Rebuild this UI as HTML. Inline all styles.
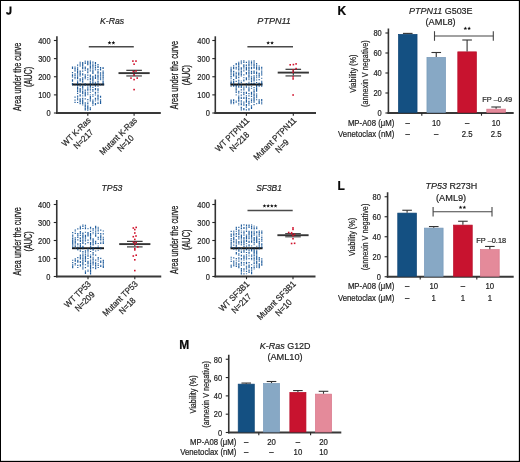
<!DOCTYPE html>
<html><head><meta charset="utf-8"><title>Figure</title>
<style>html,body{margin:0;padding:0;background:#fff;width:520px;height:462px;overflow:hidden}
svg text{font-family:"Liberation Sans", sans-serif}</style></head>
<body>
<svg width="520" height="462" viewBox="0 0 520 462" style="position:absolute;left:0;top:0;will-change:transform" font-family="'Liberation Sans', sans-serif">
<rect x="0" y="0" width="520" height="462" fill="#fff"/>
<path d="M10.5 6.4V11.6Q10.5 13.8 8.45 13.8Q7.0 13.8 6.9 12.2" fill="none" stroke="#0a0a0a" stroke-width="1.95"/>
<text transform="translate(337.60,14.80)" font-size="12" text-anchor="start" fill="#0a0a0a" font-weight="bold" stroke="#0a0a0a" stroke-width="0.2">K</text>
<text transform="translate(337.50,189.70)" font-size="12" text-anchor="start" fill="#0a0a0a" font-weight="bold" stroke="#0a0a0a" stroke-width="0.2">L</text>
<text transform="translate(179.30,348.50)" font-size="12" text-anchor="start" fill="#0a0a0a" font-weight="bold" stroke="#0a0a0a" stroke-width="0.2">M</text>
<text transform="translate(20.80,76.90) rotate(-90) scale(0.71,1)" font-size="10.3" text-anchor="middle" fill="#1e1e1e" stroke="#1e1e1e" stroke-width="0.3">Area under the curve</text>
<text transform="translate(32.20,76.90) rotate(-90) scale(0.71,1)" font-size="10.3" text-anchor="middle" fill="#1e1e1e" stroke="#1e1e1e" stroke-width="0.3">(AUC)</text>
<line x1="56.90" y1="36.30" x2="56.90" y2="113.80" stroke="#333" stroke-width="1.6"/>
<line x1="56.10" y1="113.00" x2="160.80" y2="113.00" stroke="#383838" stroke-width="1.8"/>
<line x1="53.90" y1="113.00" x2="56.90" y2="113.00" stroke="#262626" stroke-width="1.1"/>
<text transform="translate(50.60,116.30) scale(0.9,1)" font-size="8.3" text-anchor="end" fill="#1e1e1e" stroke="#1e1e1e" stroke-width="0.2">0</text>
<line x1="53.90" y1="94.88" x2="56.90" y2="94.88" stroke="#262626" stroke-width="1.1"/>
<text transform="translate(50.60,98.17) scale(0.9,1)" font-size="8.3" text-anchor="end" fill="#1e1e1e" stroke="#1e1e1e" stroke-width="0.2">100</text>
<line x1="53.90" y1="76.75" x2="56.90" y2="76.75" stroke="#262626" stroke-width="1.1"/>
<text transform="translate(50.60,80.05) scale(0.9,1)" font-size="8.3" text-anchor="end" fill="#1e1e1e" stroke="#1e1e1e" stroke-width="0.2">200</text>
<line x1="53.90" y1="58.62" x2="56.90" y2="58.62" stroke="#262626" stroke-width="1.1"/>
<text transform="translate(50.60,61.92) scale(0.9,1)" font-size="8.3" text-anchor="end" fill="#1e1e1e" stroke="#1e1e1e" stroke-width="0.2">300</text>
<line x1="53.90" y1="40.50" x2="56.90" y2="40.50" stroke="#262626" stroke-width="1.1"/>
<text transform="translate(50.60,43.80) scale(0.9,1)" font-size="8.3" text-anchor="end" fill="#1e1e1e" stroke="#1e1e1e" stroke-width="0.2">400</text>
<line x1="87.80" y1="113.00" x2="87.80" y2="115.70" stroke="#262626" stroke-width="1.1"/>
<line x1="134.10" y1="113.00" x2="134.10" y2="115.70" stroke="#262626" stroke-width="1.1"/>
<text transform="translate(112.10,24.30) scale(0.887142857142857,1)" font-size="9.8" text-anchor="middle" fill="#1e1e1e" font-style="italic" stroke="#1e1e1e" stroke-width="0.2">K-Ras</text>
<g transform="translate(91.30,121.00) rotate(-45)">
<text transform="translate(0.00,0.00) scale(0.92,1)" font-size="8.7" text-anchor="end" fill="#1e1e1e" stroke="#1e1e1e" stroke-width="0.2">WT K-Ras</text>
<text transform="translate(-18.38,10.20) scale(0.92,1)" font-size="8.7" text-anchor="middle" fill="#1e1e1e" stroke="#1e1e1e" stroke-width="0.2">N=217</text>
</g>
<g transform="translate(137.60,121.00) rotate(-45)">
<text transform="translate(0.00,0.00) scale(0.92,1)" font-size="8.7" text-anchor="end" fill="#1e1e1e" stroke="#1e1e1e" stroke-width="0.2">Mutant K-Ras</text>
<text transform="translate(-24.46,10.20) scale(0.92,1)" font-size="8.7" text-anchor="middle" fill="#1e1e1e" stroke="#1e1e1e" stroke-width="0.2">N=10</text>
</g>
<path d="M84.65 60.56h1.2v1.2h-1.2zM84.65 61.71h1.2v1.2h-1.2zM92.30 63.23h1.2v1.2h-1.2zM79.55 64.56h1.2v1.2h-1.2zM79.55 65.46h1.2v1.2h-1.2zM94.85 65.31h1.2v1.2h-1.2zM77.00 66.75h1.2v1.2h-1.2zM92.30 66.71h1.2v1.2h-1.2zM102.50 67.02h1.2v1.2h-1.2zM94.85 68.28h1.2v1.2h-1.2zM92.30 69.45h1.2v1.2h-1.2zM94.85 69.35h1.2v1.2h-1.2zM74.45 70.67h1.2v1.2h-1.2zM87.20 70.69h1.2v1.2h-1.2zM97.40 70.78h1.2v1.2h-1.2zM99.95 71.98h1.2v1.2h-1.2zM97.40 72.84h1.2v1.2h-1.2zM99.95 73.15h1.2v1.2h-1.2zM77.00 74.53h1.2v1.2h-1.2zM99.95 74.02h1.2v1.2h-1.2zM77.00 75.77h1.2v1.2h-1.2zM79.55 75.53h1.2v1.2h-1.2zM71.90 76.50h1.2v1.2h-1.2zM82.10 77.03h1.2v1.2h-1.2zM87.20 77.02h1.2v1.2h-1.2zM89.75 76.54h1.2v1.2h-1.2zM99.95 76.69h1.2v1.2h-1.2zM74.45 78.16h1.2v1.2h-1.2zM97.40 77.78h1.2v1.2h-1.2zM87.20 78.99h1.2v1.2h-1.2zM97.40 79.01h1.2v1.2h-1.2zM99.95 79.03h1.2v1.2h-1.2zM102.50 79.28h1.2v1.2h-1.2zM89.75 80.74h1.2v1.2h-1.2zM94.85 81.71h1.2v1.2h-1.2zM97.40 81.90h1.2v1.2h-1.2zM79.55 83.27h1.2v1.2h-1.2zM84.65 83.32h1.2v1.2h-1.2zM92.30 83.29h1.2v1.2h-1.2zM94.85 82.83h1.2v1.2h-1.2zM97.40 83.08h1.2v1.2h-1.2zM79.55 84.22h1.2v1.2h-1.2zM82.10 84.16h1.2v1.2h-1.2zM87.20 84.52h1.2v1.2h-1.2zM92.30 84.03h1.2v1.2h-1.2zM97.40 84.04h1.2v1.2h-1.2zM77.00 85.63h1.2v1.2h-1.2zM79.55 85.61h1.2v1.2h-1.2zM89.75 88.17h1.2v1.2h-1.2zM82.10 89.32h1.2v1.2h-1.2zM84.65 90.46h1.2v1.2h-1.2zM97.40 90.33h1.2v1.2h-1.2zM97.40 91.96h1.2v1.2h-1.2zM87.20 93.27h1.2v1.2h-1.2zM94.85 92.73h1.2v1.2h-1.2zM87.20 94.07h1.2v1.2h-1.2zM89.75 94.17h1.2v1.2h-1.2zM82.10 95.37h1.2v1.2h-1.2zM92.30 95.79h1.2v1.2h-1.2zM77.00 96.56h1.2v1.2h-1.2zM97.40 96.62h1.2v1.2h-1.2zM77.00 99.22h1.2v1.2h-1.2zM89.75 99.04h1.2v1.2h-1.2zM94.85 98.98h1.2v1.2h-1.2zM94.85 100.39h1.2v1.2h-1.2zM79.55 101.50h1.2v1.2h-1.2zM84.65 102.07h1.2v1.2h-1.2zM87.20 101.52h1.2v1.2h-1.2zM97.40 101.67h1.2v1.2h-1.2zM84.65 102.79h1.2v1.2h-1.2zM82.10 104.26h1.2v1.2h-1.2zM87.20 104.50h1.2v1.2h-1.2zM89.75 106.88h1.2v1.2h-1.2zM89.75 107.96h1.2v1.2h-1.2z" fill="#1f5c9c" fill-opacity="0.75"/>
<path d="M87.20 60.74h1.2v1.2h-1.2zM89.75 60.53h1.2v1.2h-1.2zM79.55 61.66h1.2v1.2h-1.2zM82.10 62.01h1.2v1.2h-1.2zM87.20 61.84h1.2v1.2h-1.2zM89.75 61.97h1.2v1.2h-1.2zM92.30 61.59h1.2v1.2h-1.2zM94.85 61.94h1.2v1.2h-1.2zM79.55 63.23h1.2v1.2h-1.2zM82.10 63.02h1.2v1.2h-1.2zM84.65 62.89h1.2v1.2h-1.2zM87.20 62.91h1.2v1.2h-1.2zM89.75 62.74h1.2v1.2h-1.2zM94.85 62.74h1.2v1.2h-1.2zM77.00 64.53h1.2v1.2h-1.2zM82.10 64.31h1.2v1.2h-1.2zM87.20 64.03h1.2v1.2h-1.2zM89.75 64.22h1.2v1.2h-1.2zM92.30 64.40h1.2v1.2h-1.2zM94.85 64.45h1.2v1.2h-1.2zM97.40 64.09h1.2v1.2h-1.2zM82.10 65.35h1.2v1.2h-1.2zM89.75 65.82h1.2v1.2h-1.2zM92.30 65.46h1.2v1.2h-1.2zM97.40 65.69h1.2v1.2h-1.2zM71.90 66.52h1.2v1.2h-1.2zM74.45 66.62h1.2v1.2h-1.2zM82.10 66.71h1.2v1.2h-1.2zM84.65 66.61h1.2v1.2h-1.2zM89.75 66.85h1.2v1.2h-1.2zM94.85 66.73h1.2v1.2h-1.2zM97.40 66.78h1.2v1.2h-1.2zM99.95 66.90h1.2v1.2h-1.2zM71.90 67.83h1.2v1.2h-1.2zM74.45 68.01h1.2v1.2h-1.2zM77.00 68.28h1.2v1.2h-1.2zM82.10 67.97h1.2v1.2h-1.2zM84.65 67.83h1.2v1.2h-1.2zM87.20 68.31h1.2v1.2h-1.2zM89.75 68.26h1.2v1.2h-1.2zM92.30 68.14h1.2v1.2h-1.2zM99.95 68.30h1.2v1.2h-1.2zM102.50 67.77h1.2v1.2h-1.2zM74.45 69.57h1.2v1.2h-1.2zM77.00 69.20h1.2v1.2h-1.2zM84.65 69.45h1.2v1.2h-1.2zM87.20 69.39h1.2v1.2h-1.2zM97.40 68.98h1.2v1.2h-1.2zM99.95 69.36h1.2v1.2h-1.2zM77.00 70.73h1.2v1.2h-1.2zM79.55 70.53h1.2v1.2h-1.2zM82.10 70.51h1.2v1.2h-1.2zM89.75 70.23h1.2v1.2h-1.2zM92.30 70.59h1.2v1.2h-1.2zM102.50 70.62h1.2v1.2h-1.2zM71.90 71.96h1.2v1.2h-1.2zM77.00 71.82h1.2v1.2h-1.2zM79.55 71.56h1.2v1.2h-1.2zM87.20 72.05h1.2v1.2h-1.2zM92.30 71.76h1.2v1.2h-1.2zM97.40 71.79h1.2v1.2h-1.2zM102.50 71.97h1.2v1.2h-1.2zM74.45 73.15h1.2v1.2h-1.2zM77.00 73.20h1.2v1.2h-1.2zM79.55 72.97h1.2v1.2h-1.2zM82.10 73.22h1.2v1.2h-1.2zM92.30 72.79h1.2v1.2h-1.2zM102.50 72.75h1.2v1.2h-1.2zM71.90 74.18h1.2v1.2h-1.2zM74.45 74.45h1.2v1.2h-1.2zM79.55 74.25h1.2v1.2h-1.2zM82.10 74.32h1.2v1.2h-1.2zM84.65 74.37h1.2v1.2h-1.2zM87.20 74.49h1.2v1.2h-1.2zM89.75 74.51h1.2v1.2h-1.2zM94.85 74.45h1.2v1.2h-1.2zM97.40 74.41h1.2v1.2h-1.2zM102.50 74.23h1.2v1.2h-1.2zM71.90 75.24h1.2v1.2h-1.2zM74.45 75.25h1.2v1.2h-1.2zM84.65 75.79h1.2v1.2h-1.2zM89.75 75.56h1.2v1.2h-1.2zM92.30 75.73h1.2v1.2h-1.2zM94.85 75.45h1.2v1.2h-1.2zM97.40 75.31h1.2v1.2h-1.2zM99.95 75.35h1.2v1.2h-1.2zM102.50 75.59h1.2v1.2h-1.2zM74.45 77.07h1.2v1.2h-1.2zM77.00 76.89h1.2v1.2h-1.2zM84.65 76.76h1.2v1.2h-1.2zM92.30 77.03h1.2v1.2h-1.2zM94.85 77.06h1.2v1.2h-1.2zM97.40 76.61h1.2v1.2h-1.2zM102.50 76.91h1.2v1.2h-1.2zM77.00 78.10h1.2v1.2h-1.2zM79.55 78.24h1.2v1.2h-1.2zM82.10 78.24h1.2v1.2h-1.2zM84.65 78.17h1.2v1.2h-1.2zM89.75 77.91h1.2v1.2h-1.2zM92.30 78.32h1.2v1.2h-1.2zM94.85 77.87h1.2v1.2h-1.2zM99.95 78.15h1.2v1.2h-1.2zM102.50 78.14h1.2v1.2h-1.2zM71.90 79.32h1.2v1.2h-1.2zM79.55 79.28h1.2v1.2h-1.2zM82.10 79.39h1.2v1.2h-1.2zM89.75 79.09h1.2v1.2h-1.2zM92.30 79.07h1.2v1.2h-1.2zM71.90 80.45h1.2v1.2h-1.2zM77.00 80.50h1.2v1.2h-1.2zM79.55 80.34h1.2v1.2h-1.2zM82.10 80.70h1.2v1.2h-1.2zM92.30 80.34h1.2v1.2h-1.2zM97.40 80.77h1.2v1.2h-1.2zM102.50 80.76h1.2v1.2h-1.2zM77.00 81.91h1.2v1.2h-1.2zM82.10 81.54h1.2v1.2h-1.2zM89.75 81.64h1.2v1.2h-1.2zM92.30 81.87h1.2v1.2h-1.2zM102.50 81.84h1.2v1.2h-1.2zM71.90 82.97h1.2v1.2h-1.2zM77.00 82.73h1.2v1.2h-1.2zM89.75 83.08h1.2v1.2h-1.2zM102.50 83.04h1.2v1.2h-1.2zM71.90 84.15h1.2v1.2h-1.2zM74.45 84.15h1.2v1.2h-1.2zM77.00 84.44h1.2v1.2h-1.2zM84.65 84.57h1.2v1.2h-1.2zM89.75 84.13h1.2v1.2h-1.2zM94.85 84.55h1.2v1.2h-1.2zM99.95 84.10h1.2v1.2h-1.2zM102.50 84.07h1.2v1.2h-1.2zM82.10 85.67h1.2v1.2h-1.2zM89.75 85.29h1.2v1.2h-1.2zM94.85 85.44h1.2v1.2h-1.2zM97.40 85.66h1.2v1.2h-1.2zM77.00 86.93h1.2v1.2h-1.2zM82.10 86.87h1.2v1.2h-1.2zM87.20 86.51h1.2v1.2h-1.2zM89.75 86.49h1.2v1.2h-1.2zM92.30 86.80h1.2v1.2h-1.2zM77.00 87.87h1.2v1.2h-1.2zM79.55 87.94h1.2v1.2h-1.2zM82.10 88.17h1.2v1.2h-1.2zM87.20 88.22h1.2v1.2h-1.2zM94.85 88.12h1.2v1.2h-1.2zM97.40 88.18h1.2v1.2h-1.2zM77.00 89.20h1.2v1.2h-1.2zM79.55 89.17h1.2v1.2h-1.2zM84.65 89.44h1.2v1.2h-1.2zM87.20 89.52h1.2v1.2h-1.2zM89.75 89.27h1.2v1.2h-1.2zM92.30 89.06h1.2v1.2h-1.2zM94.85 89.17h1.2v1.2h-1.2zM97.40 89.24h1.2v1.2h-1.2zM77.00 90.71h1.2v1.2h-1.2zM79.55 90.36h1.2v1.2h-1.2zM82.10 90.72h1.2v1.2h-1.2zM92.30 90.46h1.2v1.2h-1.2zM79.55 91.49h1.2v1.2h-1.2zM82.10 91.82h1.2v1.2h-1.2zM84.65 91.96h1.2v1.2h-1.2zM87.20 91.66h1.2v1.2h-1.2zM89.75 91.64h1.2v1.2h-1.2zM94.85 91.86h1.2v1.2h-1.2zM77.00 92.86h1.2v1.2h-1.2zM82.10 92.93h1.2v1.2h-1.2zM84.65 93.02h1.2v1.2h-1.2zM79.55 94.29h1.2v1.2h-1.2zM84.65 94.23h1.2v1.2h-1.2zM92.30 94.15h1.2v1.2h-1.2zM94.85 94.41h1.2v1.2h-1.2zM97.40 94.44h1.2v1.2h-1.2zM77.00 95.51h1.2v1.2h-1.2zM79.55 95.34h1.2v1.2h-1.2zM84.65 95.36h1.2v1.2h-1.2zM89.75 95.77h1.2v1.2h-1.2zM97.40 95.47h1.2v1.2h-1.2zM99.95 95.69h1.2v1.2h-1.2zM74.45 96.61h1.2v1.2h-1.2zM89.75 97.03h1.2v1.2h-1.2zM99.95 96.57h1.2v1.2h-1.2zM77.00 98.27h1.2v1.2h-1.2zM79.55 98.32h1.2v1.2h-1.2zM82.10 97.76h1.2v1.2h-1.2zM84.65 98.22h1.2v1.2h-1.2zM89.75 97.89h1.2v1.2h-1.2zM94.85 97.77h1.2v1.2h-1.2zM97.40 97.84h1.2v1.2h-1.2zM74.45 99.47h1.2v1.2h-1.2zM79.55 99.47h1.2v1.2h-1.2zM82.10 99.22h1.2v1.2h-1.2zM87.20 99.02h1.2v1.2h-1.2zM92.30 99.42h1.2v1.2h-1.2zM97.40 99.26h1.2v1.2h-1.2zM99.95 99.25h1.2v1.2h-1.2zM79.55 100.77h1.2v1.2h-1.2zM82.10 100.45h1.2v1.2h-1.2zM89.75 100.28h1.2v1.2h-1.2zM92.30 100.66h1.2v1.2h-1.2zM99.95 100.72h1.2v1.2h-1.2zM74.45 101.85h1.2v1.2h-1.2zM77.00 101.90h1.2v1.2h-1.2zM82.10 101.53h1.2v1.2h-1.2zM92.30 101.60h1.2v1.2h-1.2zM99.95 101.91h1.2v1.2h-1.2zM79.55 103.09h1.2v1.2h-1.2zM82.10 102.84h1.2v1.2h-1.2zM87.20 102.92h1.2v1.2h-1.2zM92.30 102.82h1.2v1.2h-1.2zM94.85 102.94h1.2v1.2h-1.2zM97.40 102.84h1.2v1.2h-1.2zM99.95 102.74h1.2v1.2h-1.2zM84.65 104.17h1.2v1.2h-1.2zM92.30 104.52h1.2v1.2h-1.2zM94.85 104.13h1.2v1.2h-1.2zM84.65 105.30h1.2v1.2h-1.2zM87.20 105.76h1.2v1.2h-1.2zM84.65 106.57h1.2v1.2h-1.2zM87.20 106.72h1.2v1.2h-1.2zM84.65 108.11h1.2v1.2h-1.2zM87.20 107.97h1.2v1.2h-1.2zM84.65 109.29h1.2v1.2h-1.2zM87.20 109.53h1.2v1.2h-1.2zM89.75 109.00h1.2v1.2h-1.2z" fill="#1f5c9c" fill-opacity="1.0"/>
<line x1="72.20" y1="84.54" x2="104.20" y2="84.54" stroke="#151515" stroke-width="1.9"/>
<path d="M71.90 82.97h1.2v1.2h-1.2zM77.00 82.73h1.2v1.2h-1.2zM79.55 83.27h1.2v1.2h-1.2zM84.65 83.32h1.2v1.2h-1.2zM89.75 83.08h1.2v1.2h-1.2zM92.30 83.29h1.2v1.2h-1.2zM94.85 82.83h1.2v1.2h-1.2zM97.40 83.08h1.2v1.2h-1.2zM102.50 83.04h1.2v1.2h-1.2zM71.90 84.15h1.2v1.2h-1.2zM74.45 84.15h1.2v1.2h-1.2zM77.00 84.44h1.2v1.2h-1.2zM79.55 84.22h1.2v1.2h-1.2zM82.10 84.16h1.2v1.2h-1.2zM84.65 84.57h1.2v1.2h-1.2zM87.20 84.52h1.2v1.2h-1.2zM89.75 84.13h1.2v1.2h-1.2zM92.30 84.03h1.2v1.2h-1.2zM94.85 84.55h1.2v1.2h-1.2zM97.40 84.04h1.2v1.2h-1.2zM99.95 84.10h1.2v1.2h-1.2zM102.50 84.07h1.2v1.2h-1.2z" fill="#1f5c9c" fill-opacity="0.55"/>
<line x1="134.10" y1="70.32" x2="134.10" y2="75.93" stroke="#333" stroke-width="1.1"/>
<line x1="126.30" y1="70.32" x2="141.90" y2="70.32" stroke="#2e2e2e" stroke-width="1.15"/>
<line x1="126.30" y1="75.93" x2="141.90" y2="75.93" stroke="#6e6e6e" stroke-width="1.6"/>
<line x1="118.50" y1="73.12" x2="149.70" y2="73.12" stroke="#353535" stroke-width="1.9"/>
<rect x="132.10" y="60.30" width="1.6" height="1.6" fill="#d0112b"/>
<rect x="135.20" y="60.30" width="1.6" height="1.6" fill="#d0112b"/>
<rect x="133.30" y="63.40" width="1.6" height="1.6" fill="#d0112b"/>
<rect x="132.50" y="70.80" width="1.6" height="1.6" fill="#d0112b"/>
<rect x="135.20" y="70.30" width="1.6" height="1.6" fill="#d0112b"/>
<rect x="133.30" y="74.20" width="1.6" height="1.6" fill="#d0112b"/>
<rect x="130.20" y="77.30" width="1.6" height="1.6" fill="#d0112b"/>
<rect x="136.40" y="77.30" width="1.6" height="1.6" fill="#d0112b"/>
<rect x="133.30" y="78.80" width="1.6" height="1.6" fill="#d0112b"/>
<rect x="133.30" y="88.80" width="1.6" height="1.6" fill="#d0112b"/>
<line x1="88.80" y1="46.70" x2="133.80" y2="46.70" stroke="#4a4a4a" stroke-width="1.4"/>
<path d="M109.50 40.85L110.00 42.11L111.35 42.20L110.31 43.06L110.65 44.38L109.50 43.65L108.35 44.38L108.69 43.06L107.65 42.20L109.00 42.11ZM113.40 40.85L113.90 42.11L115.25 42.20L114.21 43.06L114.55 44.38L113.40 43.65L112.25 44.38L112.59 43.06L111.55 42.20L112.90 42.11Z" fill="#111"/>
<text transform="translate(178.40,75.10) rotate(-90) scale(0.71,1)" font-size="10.3" text-anchor="middle" fill="#1e1e1e" stroke="#1e1e1e" stroke-width="0.3">Area under the curve</text>
<text transform="translate(190.00,75.10) rotate(-90) scale(0.71,1)" font-size="10.3" text-anchor="middle" fill="#1e1e1e" stroke="#1e1e1e" stroke-width="0.3">(AUC)</text>
<line x1="215.30" y1="36.30" x2="215.30" y2="113.80" stroke="#333" stroke-width="1.6"/>
<line x1="214.50" y1="113.00" x2="316.00" y2="113.00" stroke="#383838" stroke-width="1.8"/>
<line x1="212.30" y1="113.00" x2="215.30" y2="113.00" stroke="#262626" stroke-width="1.1"/>
<text transform="translate(209.80,116.30) scale(0.9,1)" font-size="8.3" text-anchor="end" fill="#1e1e1e" stroke="#1e1e1e" stroke-width="0.2">0</text>
<line x1="212.30" y1="94.88" x2="215.30" y2="94.88" stroke="#262626" stroke-width="1.1"/>
<text transform="translate(209.80,98.17) scale(0.9,1)" font-size="8.3" text-anchor="end" fill="#1e1e1e" stroke="#1e1e1e" stroke-width="0.2">100</text>
<line x1="212.30" y1="76.75" x2="215.30" y2="76.75" stroke="#262626" stroke-width="1.1"/>
<text transform="translate(209.80,80.05) scale(0.9,1)" font-size="8.3" text-anchor="end" fill="#1e1e1e" stroke="#1e1e1e" stroke-width="0.2">200</text>
<line x1="212.30" y1="58.62" x2="215.30" y2="58.62" stroke="#262626" stroke-width="1.1"/>
<text transform="translate(209.80,61.92) scale(0.9,1)" font-size="8.3" text-anchor="end" fill="#1e1e1e" stroke="#1e1e1e" stroke-width="0.2">300</text>
<line x1="212.30" y1="40.50" x2="215.30" y2="40.50" stroke="#262626" stroke-width="1.1"/>
<text transform="translate(209.80,43.80) scale(0.9,1)" font-size="8.3" text-anchor="end" fill="#1e1e1e" stroke="#1e1e1e" stroke-width="0.2">400</text>
<line x1="246.40" y1="113.00" x2="246.40" y2="115.70" stroke="#262626" stroke-width="1.1"/>
<line x1="293.30" y1="113.00" x2="293.30" y2="115.70" stroke="#262626" stroke-width="1.1"/>
<text transform="translate(274.10,23.90) scale(0.9246938775510203,1)" font-size="9.8" text-anchor="middle" fill="#1e1e1e" font-style="italic" stroke="#1e1e1e" stroke-width="0.2">PTPN11</text>
<g transform="translate(249.90,121.00) rotate(-45)">
<text transform="translate(0.00,0.00) scale(0.92,1)" font-size="8.7" text-anchor="end" fill="#1e1e1e" stroke="#1e1e1e" stroke-width="0.2">WT PTPN11</text>
<text transform="translate(-22.09,10.20) scale(0.92,1)" font-size="8.7" text-anchor="middle" fill="#1e1e1e" stroke="#1e1e1e" stroke-width="0.2">N=218</text>
</g>
<g transform="translate(296.80,121.00) rotate(-45)">
<text transform="translate(0.00,0.00) scale(0.92,1)" font-size="8.7" text-anchor="end" fill="#1e1e1e" stroke="#1e1e1e" stroke-width="0.2">Mutant PTPN11</text>
<text transform="translate(-28.17,10.20) scale(0.92,1)" font-size="8.7" text-anchor="middle" fill="#1e1e1e" stroke="#1e1e1e" stroke-width="0.2">N=9</text>
</g>
<path d="M240.70 60.24h1.2v1.2h-1.2zM250.90 60.59h1.2v1.2h-1.2zM240.70 63.08h1.2v1.2h-1.2zM248.35 62.78h1.2v1.2h-1.2zM250.90 62.98h1.2v1.2h-1.2zM250.90 64.47h1.2v1.2h-1.2zM256.00 64.57h1.2v1.2h-1.2zM245.80 65.33h1.2v1.2h-1.2zM230.50 66.85h1.2v1.2h-1.2zM238.15 66.93h1.2v1.2h-1.2zM240.70 66.89h1.2v1.2h-1.2zM243.25 68.20h1.2v1.2h-1.2zM253.45 67.78h1.2v1.2h-1.2zM238.15 70.40h1.2v1.2h-1.2zM233.05 71.55h1.2v1.2h-1.2zM235.60 71.80h1.2v1.2h-1.2zM238.15 71.96h1.2v1.2h-1.2zM261.10 71.90h1.2v1.2h-1.2zM230.50 73.00h1.2v1.2h-1.2zM240.70 72.87h1.2v1.2h-1.2zM235.60 74.38h1.2v1.2h-1.2zM256.00 74.49h1.2v1.2h-1.2zM261.10 74.52h1.2v1.2h-1.2zM238.15 75.24h1.2v1.2h-1.2zM250.90 75.72h1.2v1.2h-1.2zM256.00 75.48h1.2v1.2h-1.2zM230.50 76.52h1.2v1.2h-1.2zM243.25 77.03h1.2v1.2h-1.2zM245.80 77.01h1.2v1.2h-1.2zM250.90 76.49h1.2v1.2h-1.2zM256.00 77.05h1.2v1.2h-1.2zM248.35 78.13h1.2v1.2h-1.2zM261.10 77.75h1.2v1.2h-1.2zM238.15 79.41h1.2v1.2h-1.2zM248.35 79.01h1.2v1.2h-1.2zM240.70 80.40h1.2v1.2h-1.2zM238.15 81.86h1.2v1.2h-1.2zM261.10 81.83h1.2v1.2h-1.2zM230.50 82.87h1.2v1.2h-1.2zM233.05 83.27h1.2v1.2h-1.2zM248.35 83.29h1.2v1.2h-1.2zM248.35 85.28h1.2v1.2h-1.2zM250.90 85.80h1.2v1.2h-1.2zM261.10 85.68h1.2v1.2h-1.2zM235.60 87.01h1.2v1.2h-1.2zM245.80 86.70h1.2v1.2h-1.2zM248.35 87.00h1.2v1.2h-1.2zM243.25 87.97h1.2v1.2h-1.2zM250.90 87.86h1.2v1.2h-1.2zM235.60 90.49h1.2v1.2h-1.2zM238.15 90.74h1.2v1.2h-1.2zM240.70 91.74h1.2v1.2h-1.2zM253.45 91.86h1.2v1.2h-1.2zM238.15 93.16h1.2v1.2h-1.2zM243.25 92.84h1.2v1.2h-1.2zM256.00 93.13h1.2v1.2h-1.2zM235.60 94.33h1.2v1.2h-1.2zM250.90 94.12h1.2v1.2h-1.2zM256.00 95.75h1.2v1.2h-1.2zM240.70 96.73h1.2v1.2h-1.2zM243.25 96.68h1.2v1.2h-1.2zM256.00 96.99h1.2v1.2h-1.2zM250.90 98.23h1.2v1.2h-1.2zM235.60 100.52h1.2v1.2h-1.2zM235.60 101.86h1.2v1.2h-1.2zM240.70 101.56h1.2v1.2h-1.2zM250.90 101.72h1.2v1.2h-1.2zM253.45 101.84h1.2v1.2h-1.2zM261.10 101.98h1.2v1.2h-1.2zM230.50 103.05h1.2v1.2h-1.2zM233.05 103.12h1.2v1.2h-1.2zM238.15 102.75h1.2v1.2h-1.2zM256.00 103.00h1.2v1.2h-1.2zM261.10 103.26h1.2v1.2h-1.2zM238.15 104.31h1.2v1.2h-1.2zM248.35 104.47h1.2v1.2h-1.2zM245.80 106.84h1.2v1.2h-1.2zM240.70 107.82h1.2v1.2h-1.2z" fill="#1f5c9c" fill-opacity="0.75"/>
<path d="M243.25 60.30h1.2v1.2h-1.2zM248.35 60.39h1.2v1.2h-1.2zM253.45 60.25h1.2v1.2h-1.2zM238.15 61.66h1.2v1.2h-1.2zM240.70 61.54h1.2v1.2h-1.2zM243.25 61.84h1.2v1.2h-1.2zM245.80 61.71h1.2v1.2h-1.2zM248.35 61.64h1.2v1.2h-1.2zM250.90 61.68h1.2v1.2h-1.2zM253.45 61.63h1.2v1.2h-1.2zM235.60 62.97h1.2v1.2h-1.2zM238.15 62.95h1.2v1.2h-1.2zM253.45 63.23h1.2v1.2h-1.2zM256.00 62.97h1.2v1.2h-1.2zM235.60 64.09h1.2v1.2h-1.2zM238.15 64.18h1.2v1.2h-1.2zM243.25 64.24h1.2v1.2h-1.2zM245.80 64.45h1.2v1.2h-1.2zM248.35 64.04h1.2v1.2h-1.2zM253.45 64.05h1.2v1.2h-1.2zM233.05 65.26h1.2v1.2h-1.2zM238.15 65.71h1.2v1.2h-1.2zM243.25 65.53h1.2v1.2h-1.2zM248.35 65.33h1.2v1.2h-1.2zM253.45 65.30h1.2v1.2h-1.2zM256.00 65.52h1.2v1.2h-1.2zM258.55 65.39h1.2v1.2h-1.2zM233.05 66.92h1.2v1.2h-1.2zM235.60 66.70h1.2v1.2h-1.2zM243.25 66.62h1.2v1.2h-1.2zM245.80 67.03h1.2v1.2h-1.2zM248.35 67.05h1.2v1.2h-1.2zM250.90 66.77h1.2v1.2h-1.2zM253.45 66.77h1.2v1.2h-1.2zM256.00 66.94h1.2v1.2h-1.2zM258.55 67.07h1.2v1.2h-1.2zM261.10 66.73h1.2v1.2h-1.2zM230.50 68.24h1.2v1.2h-1.2zM233.05 68.09h1.2v1.2h-1.2zM235.60 68.21h1.2v1.2h-1.2zM238.15 68.23h1.2v1.2h-1.2zM240.70 67.89h1.2v1.2h-1.2zM245.80 68.22h1.2v1.2h-1.2zM248.35 67.93h1.2v1.2h-1.2zM250.90 68.12h1.2v1.2h-1.2zM256.00 67.76h1.2v1.2h-1.2zM258.55 67.94h1.2v1.2h-1.2zM261.10 68.19h1.2v1.2h-1.2zM230.50 69.28h1.2v1.2h-1.2zM238.15 69.01h1.2v1.2h-1.2zM240.70 69.16h1.2v1.2h-1.2zM245.80 69.35h1.2v1.2h-1.2zM248.35 69.38h1.2v1.2h-1.2zM256.00 69.17h1.2v1.2h-1.2zM258.55 69.12h1.2v1.2h-1.2zM230.50 70.24h1.2v1.2h-1.2zM233.05 70.77h1.2v1.2h-1.2zM240.70 70.71h1.2v1.2h-1.2zM243.25 70.36h1.2v1.2h-1.2zM248.35 70.39h1.2v1.2h-1.2zM250.90 70.72h1.2v1.2h-1.2zM253.45 70.49h1.2v1.2h-1.2zM261.10 70.51h1.2v1.2h-1.2zM230.50 71.52h1.2v1.2h-1.2zM240.70 71.65h1.2v1.2h-1.2zM245.80 71.98h1.2v1.2h-1.2zM248.35 71.76h1.2v1.2h-1.2zM250.90 71.49h1.2v1.2h-1.2zM253.45 71.66h1.2v1.2h-1.2zM256.00 71.59h1.2v1.2h-1.2zM233.05 73.25h1.2v1.2h-1.2zM235.60 73.04h1.2v1.2h-1.2zM238.15 73.09h1.2v1.2h-1.2zM245.80 73.31h1.2v1.2h-1.2zM248.35 72.95h1.2v1.2h-1.2zM250.90 73.09h1.2v1.2h-1.2zM253.45 72.79h1.2v1.2h-1.2zM256.00 72.79h1.2v1.2h-1.2zM258.55 72.82h1.2v1.2h-1.2zM261.10 73.29h1.2v1.2h-1.2zM230.50 74.13h1.2v1.2h-1.2zM233.05 74.08h1.2v1.2h-1.2zM238.15 74.17h1.2v1.2h-1.2zM240.70 74.08h1.2v1.2h-1.2zM243.25 74.19h1.2v1.2h-1.2zM248.35 74.53h1.2v1.2h-1.2zM258.55 74.32h1.2v1.2h-1.2zM230.50 75.77h1.2v1.2h-1.2zM233.05 75.32h1.2v1.2h-1.2zM235.60 75.46h1.2v1.2h-1.2zM240.70 75.40h1.2v1.2h-1.2zM248.35 75.50h1.2v1.2h-1.2zM253.45 75.26h1.2v1.2h-1.2zM258.55 75.41h1.2v1.2h-1.2zM235.60 76.73h1.2v1.2h-1.2zM238.15 77.01h1.2v1.2h-1.2zM248.35 76.60h1.2v1.2h-1.2zM253.45 76.68h1.2v1.2h-1.2zM258.55 76.63h1.2v1.2h-1.2zM230.50 78.14h1.2v1.2h-1.2zM235.60 77.88h1.2v1.2h-1.2zM245.80 77.93h1.2v1.2h-1.2zM250.90 77.86h1.2v1.2h-1.2zM253.45 77.92h1.2v1.2h-1.2zM233.05 79.05h1.2v1.2h-1.2zM243.25 79.38h1.2v1.2h-1.2zM245.80 79.13h1.2v1.2h-1.2zM250.90 79.31h1.2v1.2h-1.2zM253.45 79.05h1.2v1.2h-1.2zM256.00 79.39h1.2v1.2h-1.2zM258.55 78.99h1.2v1.2h-1.2zM230.50 80.46h1.2v1.2h-1.2zM233.05 80.73h1.2v1.2h-1.2zM235.60 80.79h1.2v1.2h-1.2zM238.15 80.37h1.2v1.2h-1.2zM243.25 80.38h1.2v1.2h-1.2zM250.90 80.76h1.2v1.2h-1.2zM253.45 80.27h1.2v1.2h-1.2zM261.10 80.67h1.2v1.2h-1.2zM230.50 82.07h1.2v1.2h-1.2zM233.05 81.73h1.2v1.2h-1.2zM240.70 81.94h1.2v1.2h-1.2zM248.35 81.65h1.2v1.2h-1.2zM256.00 81.89h1.2v1.2h-1.2zM238.15 83.07h1.2v1.2h-1.2zM245.80 83.18h1.2v1.2h-1.2zM250.90 82.87h1.2v1.2h-1.2zM253.45 82.76h1.2v1.2h-1.2zM258.55 82.76h1.2v1.2h-1.2zM261.10 82.78h1.2v1.2h-1.2zM233.05 84.33h1.2v1.2h-1.2zM235.60 84.46h1.2v1.2h-1.2zM238.15 84.05h1.2v1.2h-1.2zM240.70 84.21h1.2v1.2h-1.2zM256.00 84.28h1.2v1.2h-1.2zM258.55 84.07h1.2v1.2h-1.2zM261.10 84.24h1.2v1.2h-1.2zM230.50 85.44h1.2v1.2h-1.2zM233.05 85.60h1.2v1.2h-1.2zM235.60 85.78h1.2v1.2h-1.2zM238.15 85.63h1.2v1.2h-1.2zM240.70 85.78h1.2v1.2h-1.2zM245.80 85.61h1.2v1.2h-1.2zM256.00 85.32h1.2v1.2h-1.2zM258.55 85.54h1.2v1.2h-1.2zM238.15 86.57h1.2v1.2h-1.2zM240.70 86.81h1.2v1.2h-1.2zM243.25 86.57h1.2v1.2h-1.2zM253.45 86.96h1.2v1.2h-1.2zM256.00 86.58h1.2v1.2h-1.2zM235.60 88.19h1.2v1.2h-1.2zM248.35 88.26h1.2v1.2h-1.2zM256.00 88.05h1.2v1.2h-1.2zM235.60 89.29h1.2v1.2h-1.2zM240.70 89.26h1.2v1.2h-1.2zM243.25 89.24h1.2v1.2h-1.2zM248.35 89.45h1.2v1.2h-1.2zM253.45 89.33h1.2v1.2h-1.2zM256.00 89.36h1.2v1.2h-1.2zM248.35 90.40h1.2v1.2h-1.2zM253.45 90.77h1.2v1.2h-1.2zM256.00 90.61h1.2v1.2h-1.2zM235.60 91.70h1.2v1.2h-1.2zM238.15 91.53h1.2v1.2h-1.2zM243.25 91.71h1.2v1.2h-1.2zM245.80 91.78h1.2v1.2h-1.2zM250.90 91.78h1.2v1.2h-1.2zM245.80 92.75h1.2v1.2h-1.2zM248.35 93.07h1.2v1.2h-1.2zM250.90 92.95h1.2v1.2h-1.2zM253.45 93.13h1.2v1.2h-1.2zM240.70 94.45h1.2v1.2h-1.2zM243.25 93.98h1.2v1.2h-1.2zM253.45 94.37h1.2v1.2h-1.2zM256.00 94.54h1.2v1.2h-1.2zM238.15 95.51h1.2v1.2h-1.2zM245.80 95.23h1.2v1.2h-1.2zM248.35 95.31h1.2v1.2h-1.2zM250.90 95.70h1.2v1.2h-1.2zM253.45 95.60h1.2v1.2h-1.2zM238.15 97.07h1.2v1.2h-1.2zM245.80 96.88h1.2v1.2h-1.2zM253.45 96.97h1.2v1.2h-1.2zM238.15 98.04h1.2v1.2h-1.2zM240.70 97.85h1.2v1.2h-1.2zM243.25 97.74h1.2v1.2h-1.2zM245.80 97.87h1.2v1.2h-1.2zM248.35 97.96h1.2v1.2h-1.2zM253.45 98.20h1.2v1.2h-1.2zM230.50 99.57h1.2v1.2h-1.2zM233.05 99.13h1.2v1.2h-1.2zM238.15 99.41h1.2v1.2h-1.2zM245.80 99.36h1.2v1.2h-1.2zM250.90 99.41h1.2v1.2h-1.2zM253.45 99.51h1.2v1.2h-1.2zM256.00 99.17h1.2v1.2h-1.2zM258.55 99.32h1.2v1.2h-1.2zM261.10 98.99h1.2v1.2h-1.2zM230.50 100.63h1.2v1.2h-1.2zM233.05 100.27h1.2v1.2h-1.2zM238.15 100.55h1.2v1.2h-1.2zM240.70 100.37h1.2v1.2h-1.2zM245.80 100.52h1.2v1.2h-1.2zM248.35 100.69h1.2v1.2h-1.2zM250.90 100.40h1.2v1.2h-1.2zM253.45 100.65h1.2v1.2h-1.2zM258.55 100.72h1.2v1.2h-1.2zM261.10 100.27h1.2v1.2h-1.2zM230.50 101.76h1.2v1.2h-1.2zM233.05 101.92h1.2v1.2h-1.2zM243.25 101.51h1.2v1.2h-1.2zM245.80 101.65h1.2v1.2h-1.2zM248.35 101.51h1.2v1.2h-1.2zM258.55 101.90h1.2v1.2h-1.2zM240.70 103.29h1.2v1.2h-1.2zM243.25 103.13h1.2v1.2h-1.2zM248.35 102.94h1.2v1.2h-1.2zM258.55 102.76h1.2v1.2h-1.2zM240.70 104.06h1.2v1.2h-1.2zM243.25 104.52h1.2v1.2h-1.2zM245.80 104.05h1.2v1.2h-1.2zM253.45 104.12h1.2v1.2h-1.2zM245.80 105.33h1.2v1.2h-1.2zM250.90 105.28h1.2v1.2h-1.2zM240.70 106.87h1.2v1.2h-1.2zM250.90 106.86h1.2v1.2h-1.2zM243.25 107.97h1.2v1.2h-1.2zM248.35 108.15h1.2v1.2h-1.2zM250.90 107.81h1.2v1.2h-1.2zM240.70 109.27h1.2v1.2h-1.2zM243.25 109.06h1.2v1.2h-1.2zM245.80 109.20h1.2v1.2h-1.2zM248.35 109.22h1.2v1.2h-1.2z" fill="#1f5c9c" fill-opacity="1.0"/>
<line x1="230.40" y1="84.54" x2="262.40" y2="84.54" stroke="#151515" stroke-width="1.9"/>
<path d="M230.50 82.87h1.2v1.2h-1.2zM233.05 83.27h1.2v1.2h-1.2zM238.15 83.07h1.2v1.2h-1.2zM245.80 83.18h1.2v1.2h-1.2zM248.35 83.29h1.2v1.2h-1.2zM250.90 82.87h1.2v1.2h-1.2zM253.45 82.76h1.2v1.2h-1.2zM258.55 82.76h1.2v1.2h-1.2zM261.10 82.78h1.2v1.2h-1.2zM233.05 84.33h1.2v1.2h-1.2zM235.60 84.46h1.2v1.2h-1.2zM238.15 84.05h1.2v1.2h-1.2zM240.70 84.21h1.2v1.2h-1.2zM256.00 84.28h1.2v1.2h-1.2zM258.55 84.07h1.2v1.2h-1.2zM261.10 84.24h1.2v1.2h-1.2z" fill="#1f5c9c" fill-opacity="0.55"/>
<line x1="293.30" y1="69.30" x2="293.30" y2="75.90" stroke="#333" stroke-width="1.1"/>
<line x1="285.50" y1="69.30" x2="301.10" y2="69.30" stroke="#2e2e2e" stroke-width="1.15"/>
<line x1="285.50" y1="75.90" x2="301.10" y2="75.90" stroke="#6e6e6e" stroke-width="1.6"/>
<line x1="277.70" y1="72.60" x2="308.90" y2="72.60" stroke="#353535" stroke-width="1.9"/>
<rect x="289.40" y="64.00" width="1.6" height="1.6" fill="#d0112b"/>
<rect x="292.60" y="63.80" width="1.6" height="1.6" fill="#d0112b"/>
<rect x="295.30" y="63.10" width="1.6" height="1.6" fill="#d0112b"/>
<rect x="295.30" y="67.80" width="1.6" height="1.6" fill="#d0112b"/>
<rect x="292.30" y="69.10" width="1.6" height="1.6" fill="#d0112b"/>
<rect x="292.30" y="71.40" width="1.6" height="1.6" fill="#d0112b"/>
<rect x="292.30" y="76.10" width="1.6" height="1.6" fill="#d0112b"/>
<rect x="292.30" y="78.10" width="1.6" height="1.6" fill="#d0112b"/>
<rect x="292.30" y="94.20" width="1.6" height="1.6" fill="#d0112b"/>
<line x1="247.40" y1="46.80" x2="293.00" y2="46.80" stroke="#4a4a4a" stroke-width="1.4"/>
<path d="M268.15 40.95L268.65 42.21L270.00 42.30L268.96 43.16L269.30 44.48L268.15 43.75L267.00 44.48L267.34 43.16L266.30 42.30L267.65 42.21ZM272.05 40.95L272.55 42.21L273.90 42.30L272.86 43.16L273.20 44.48L272.05 43.75L270.90 44.48L271.24 43.16L270.20 42.30L271.55 42.21Z" fill="#111"/>
<text transform="translate(20.80,241.40) rotate(-90) scale(0.71,1)" font-size="10.3" text-anchor="middle" fill="#1e1e1e" stroke="#1e1e1e" stroke-width="0.3">Area under the curve</text>
<text transform="translate(32.20,241.40) rotate(-90) scale(0.71,1)" font-size="10.3" text-anchor="middle" fill="#1e1e1e" stroke="#1e1e1e" stroke-width="0.3">(AUC)</text>
<line x1="56.75" y1="200.00" x2="56.75" y2="277.30" stroke="#333" stroke-width="1.6"/>
<line x1="55.95" y1="276.50" x2="161.25" y2="276.50" stroke="#383838" stroke-width="1.8"/>
<line x1="53.75" y1="276.50" x2="56.75" y2="276.50" stroke="#262626" stroke-width="1.1"/>
<text transform="translate(50.45,279.80) scale(0.9,1)" font-size="8.3" text-anchor="end" fill="#1e1e1e" stroke="#1e1e1e" stroke-width="0.2">0</text>
<line x1="53.75" y1="258.50" x2="56.75" y2="258.50" stroke="#262626" stroke-width="1.1"/>
<text transform="translate(50.45,261.80) scale(0.9,1)" font-size="8.3" text-anchor="end" fill="#1e1e1e" stroke="#1e1e1e" stroke-width="0.2">100</text>
<line x1="53.75" y1="240.50" x2="56.75" y2="240.50" stroke="#262626" stroke-width="1.1"/>
<text transform="translate(50.45,243.80) scale(0.9,1)" font-size="8.3" text-anchor="end" fill="#1e1e1e" stroke="#1e1e1e" stroke-width="0.2">200</text>
<line x1="53.75" y1="222.50" x2="56.75" y2="222.50" stroke="#262626" stroke-width="1.1"/>
<text transform="translate(50.45,225.80) scale(0.9,1)" font-size="8.3" text-anchor="end" fill="#1e1e1e" stroke="#1e1e1e" stroke-width="0.2">300</text>
<line x1="53.75" y1="204.50" x2="56.75" y2="204.50" stroke="#262626" stroke-width="1.1"/>
<text transform="translate(50.45,207.80) scale(0.9,1)" font-size="8.3" text-anchor="end" fill="#1e1e1e" stroke="#1e1e1e" stroke-width="0.2">400</text>
<line x1="88.00" y1="276.50" x2="88.00" y2="279.20" stroke="#262626" stroke-width="1.1"/>
<line x1="134.80" y1="276.50" x2="134.80" y2="279.20" stroke="#262626" stroke-width="1.1"/>
<text transform="translate(111.90,191.00) scale(0.887142857142857,1)" font-size="9.8" text-anchor="middle" fill="#1e1e1e" font-style="italic" stroke="#1e1e1e" stroke-width="0.2">TP53</text>
<g transform="translate(91.50,284.50) rotate(-45)">
<text transform="translate(0.00,0.00) scale(0.92,1)" font-size="8.7" text-anchor="end" fill="#1e1e1e" stroke="#1e1e1e" stroke-width="0.2">WT TP53</text>
<text transform="translate(-16.75,10.20) scale(0.92,1)" font-size="8.7" text-anchor="middle" fill="#1e1e1e" stroke="#1e1e1e" stroke-width="0.2">N=209</text>
</g>
<g transform="translate(138.30,284.50) rotate(-45)">
<text transform="translate(0.00,0.00) scale(0.92,1)" font-size="8.7" text-anchor="end" fill="#1e1e1e" stroke="#1e1e1e" stroke-width="0.2">Mutant TP53</text>
<text transform="translate(-22.84,10.20) scale(0.92,1)" font-size="8.7" text-anchor="middle" fill="#1e1e1e" stroke="#1e1e1e" stroke-width="0.2">N=18</text>
</g>
<path d="M82.30 224.48h1.2v1.2h-1.2zM84.85 224.63h1.2v1.2h-1.2zM82.30 225.92h1.2v1.2h-1.2zM95.05 225.84h1.2v1.2h-1.2zM79.75 227.01h1.2v1.2h-1.2zM84.85 227.13h1.2v1.2h-1.2zM89.95 226.82h1.2v1.2h-1.2zM95.05 226.79h1.2v1.2h-1.2zM77.20 228.26h1.2v1.2h-1.2zM79.75 228.23h1.2v1.2h-1.2zM82.30 227.91h1.2v1.2h-1.2zM84.85 228.10h1.2v1.2h-1.2zM89.95 228.13h1.2v1.2h-1.2zM92.50 228.12h1.2v1.2h-1.2zM97.60 228.32h1.2v1.2h-1.2zM92.50 229.51h1.2v1.2h-1.2zM100.15 229.56h1.2v1.2h-1.2zM74.65 230.41h1.2v1.2h-1.2zM79.75 230.92h1.2v1.2h-1.2zM89.95 230.84h1.2v1.2h-1.2zM95.05 230.66h1.2v1.2h-1.2zM97.60 230.41h1.2v1.2h-1.2zM102.70 230.42h1.2v1.2h-1.2zM72.10 231.97h1.2v1.2h-1.2zM79.75 232.20h1.2v1.2h-1.2zM84.85 231.65h1.2v1.2h-1.2zM87.40 232.07h1.2v1.2h-1.2zM92.50 231.67h1.2v1.2h-1.2zM74.65 232.85h1.2v1.2h-1.2zM77.20 233.05h1.2v1.2h-1.2zM82.30 233.12h1.2v1.2h-1.2zM87.40 233.35h1.2v1.2h-1.2zM89.95 233.10h1.2v1.2h-1.2zM95.05 233.23h1.2v1.2h-1.2zM97.60 232.86h1.2v1.2h-1.2zM100.15 233.07h1.2v1.2h-1.2zM102.70 233.22h1.2v1.2h-1.2zM72.10 234.46h1.2v1.2h-1.2zM77.20 234.56h1.2v1.2h-1.2zM79.75 234.69h1.2v1.2h-1.2zM82.30 234.59h1.2v1.2h-1.2zM84.85 234.67h1.2v1.2h-1.2zM87.40 234.33h1.2v1.2h-1.2zM89.95 234.18h1.2v1.2h-1.2zM95.05 234.63h1.2v1.2h-1.2zM82.30 235.59h1.2v1.2h-1.2zM84.85 235.61h1.2v1.2h-1.2zM87.40 235.37h1.2v1.2h-1.2zM89.95 235.55h1.2v1.2h-1.2zM95.05 235.49h1.2v1.2h-1.2zM100.15 235.44h1.2v1.2h-1.2zM77.20 236.90h1.2v1.2h-1.2zM82.30 236.87h1.2v1.2h-1.2zM84.85 236.61h1.2v1.2h-1.2zM89.95 237.10h1.2v1.2h-1.2zM97.60 236.87h1.2v1.2h-1.2zM100.15 236.86h1.2v1.2h-1.2zM102.70 236.67h1.2v1.2h-1.2zM72.10 238.00h1.2v1.2h-1.2zM74.65 238.44h1.2v1.2h-1.2zM79.75 237.87h1.2v1.2h-1.2zM82.30 238.16h1.2v1.2h-1.2zM84.85 238.28h1.2v1.2h-1.2zM89.95 238.04h1.2v1.2h-1.2zM92.50 238.16h1.2v1.2h-1.2zM97.60 238.43h1.2v1.2h-1.2zM100.15 238.13h1.2v1.2h-1.2zM102.70 238.44h1.2v1.2h-1.2zM72.10 239.47h1.2v1.2h-1.2zM74.65 239.19h1.2v1.2h-1.2zM77.20 239.21h1.2v1.2h-1.2zM79.75 239.55h1.2v1.2h-1.2zM82.30 239.45h1.2v1.2h-1.2zM87.40 239.45h1.2v1.2h-1.2zM92.50 239.35h1.2v1.2h-1.2zM100.15 239.36h1.2v1.2h-1.2zM102.70 239.39h1.2v1.2h-1.2zM72.10 240.73h1.2v1.2h-1.2zM74.65 240.68h1.2v1.2h-1.2zM79.75 240.80h1.2v1.2h-1.2zM82.30 240.52h1.2v1.2h-1.2zM84.85 240.39h1.2v1.2h-1.2zM92.50 240.59h1.2v1.2h-1.2zM95.05 240.72h1.2v1.2h-1.2zM72.10 242.08h1.2v1.2h-1.2zM74.65 241.87h1.2v1.2h-1.2zM82.30 241.90h1.2v1.2h-1.2zM87.40 242.10h1.2v1.2h-1.2zM89.95 241.99h1.2v1.2h-1.2zM92.50 241.68h1.2v1.2h-1.2zM95.05 242.15h1.2v1.2h-1.2zM100.15 241.66h1.2v1.2h-1.2zM72.10 243.20h1.2v1.2h-1.2zM74.65 243.16h1.2v1.2h-1.2zM77.20 243.34h1.2v1.2h-1.2zM79.75 242.97h1.2v1.2h-1.2zM82.30 242.92h1.2v1.2h-1.2zM84.85 243.32h1.2v1.2h-1.2zM89.95 243.22h1.2v1.2h-1.2zM92.50 243.18h1.2v1.2h-1.2zM95.05 243.07h1.2v1.2h-1.2zM97.60 242.92h1.2v1.2h-1.2zM100.15 242.91h1.2v1.2h-1.2zM102.70 242.87h1.2v1.2h-1.2zM79.75 244.52h1.2v1.2h-1.2zM89.95 244.33h1.2v1.2h-1.2zM92.50 244.28h1.2v1.2h-1.2zM72.10 245.59h1.2v1.2h-1.2zM74.65 245.76h1.2v1.2h-1.2zM79.75 245.86h1.2v1.2h-1.2zM82.30 245.80h1.2v1.2h-1.2zM77.20 246.68h1.2v1.2h-1.2zM79.75 246.72h1.2v1.2h-1.2zM82.30 246.79h1.2v1.2h-1.2zM89.95 246.75h1.2v1.2h-1.2zM92.50 246.94h1.2v1.2h-1.2zM95.05 247.12h1.2v1.2h-1.2zM97.60 246.90h1.2v1.2h-1.2zM100.15 247.19h1.2v1.2h-1.2zM74.65 247.89h1.2v1.2h-1.2zM77.20 248.32h1.2v1.2h-1.2zM82.30 248.14h1.2v1.2h-1.2zM89.95 248.21h1.2v1.2h-1.2zM92.50 248.22h1.2v1.2h-1.2zM100.15 248.08h1.2v1.2h-1.2zM87.40 249.62h1.2v1.2h-1.2zM92.50 249.50h1.2v1.2h-1.2zM79.75 250.45h1.2v1.2h-1.2zM82.30 250.89h1.2v1.2h-1.2zM84.85 250.35h1.2v1.2h-1.2zM89.95 250.90h1.2v1.2h-1.2zM95.05 250.38h1.2v1.2h-1.2zM84.85 251.66h1.2v1.2h-1.2zM92.50 252.08h1.2v1.2h-1.2zM84.85 253.43h1.2v1.2h-1.2zM92.50 253.41h1.2v1.2h-1.2zM79.75 254.49h1.2v1.2h-1.2zM82.30 254.46h1.2v1.2h-1.2zM87.40 254.65h1.2v1.2h-1.2zM89.95 254.42h1.2v1.2h-1.2zM92.50 254.27h1.2v1.2h-1.2zM95.05 254.56h1.2v1.2h-1.2zM79.75 255.50h1.2v1.2h-1.2zM84.85 255.92h1.2v1.2h-1.2zM89.95 255.93h1.2v1.2h-1.2zM77.20 257.00h1.2v1.2h-1.2zM79.75 257.08h1.2v1.2h-1.2zM84.85 257.03h1.2v1.2h-1.2zM89.95 257.16h1.2v1.2h-1.2zM92.50 256.63h1.2v1.2h-1.2zM97.60 257.11h1.2v1.2h-1.2zM79.75 258.24h1.2v1.2h-1.2zM82.30 258.09h1.2v1.2h-1.2zM84.85 258.35h1.2v1.2h-1.2zM87.40 257.88h1.2v1.2h-1.2zM92.50 258.26h1.2v1.2h-1.2zM97.60 258.43h1.2v1.2h-1.2zM100.15 257.86h1.2v1.2h-1.2zM72.10 259.65h1.2v1.2h-1.2zM74.65 259.19h1.2v1.2h-1.2zM77.20 259.70h1.2v1.2h-1.2zM82.30 259.54h1.2v1.2h-1.2zM84.85 259.66h1.2v1.2h-1.2zM89.95 259.56h1.2v1.2h-1.2zM92.50 259.29h1.2v1.2h-1.2zM95.05 259.53h1.2v1.2h-1.2zM102.70 259.70h1.2v1.2h-1.2zM74.65 260.60h1.2v1.2h-1.2zM77.20 260.70h1.2v1.2h-1.2zM79.75 260.88h1.2v1.2h-1.2zM82.30 260.67h1.2v1.2h-1.2zM84.85 260.88h1.2v1.2h-1.2zM87.40 260.76h1.2v1.2h-1.2zM100.15 260.57h1.2v1.2h-1.2zM72.10 261.94h1.2v1.2h-1.2zM79.75 261.76h1.2v1.2h-1.2zM82.30 261.93h1.2v1.2h-1.2zM87.40 262.08h1.2v1.2h-1.2zM92.50 262.10h1.2v1.2h-1.2zM100.15 261.78h1.2v1.2h-1.2zM102.70 261.88h1.2v1.2h-1.2zM74.65 263.09h1.2v1.2h-1.2zM82.30 263.00h1.2v1.2h-1.2zM87.40 262.93h1.2v1.2h-1.2zM89.95 262.87h1.2v1.2h-1.2zM95.05 263.12h1.2v1.2h-1.2zM102.70 263.17h1.2v1.2h-1.2zM72.10 264.26h1.2v1.2h-1.2zM77.20 264.68h1.2v1.2h-1.2zM79.75 264.31h1.2v1.2h-1.2zM82.30 264.15h1.2v1.2h-1.2zM84.85 264.15h1.2v1.2h-1.2zM89.95 264.28h1.2v1.2h-1.2zM92.50 264.32h1.2v1.2h-1.2zM95.05 264.44h1.2v1.2h-1.2zM97.60 264.69h1.2v1.2h-1.2zM102.70 264.41h1.2v1.2h-1.2zM72.10 265.70h1.2v1.2h-1.2zM79.75 265.42h1.2v1.2h-1.2zM87.40 265.66h1.2v1.2h-1.2zM89.95 265.49h1.2v1.2h-1.2zM95.05 265.44h1.2v1.2h-1.2zM100.15 265.76h1.2v1.2h-1.2zM102.70 265.65h1.2v1.2h-1.2zM72.10 266.96h1.2v1.2h-1.2zM77.20 266.90h1.2v1.2h-1.2zM82.30 267.17h1.2v1.2h-1.2zM84.85 267.10h1.2v1.2h-1.2zM89.95 266.86h1.2v1.2h-1.2zM92.50 267.09h1.2v1.2h-1.2zM95.05 267.19h1.2v1.2h-1.2zM97.60 266.91h1.2v1.2h-1.2zM102.70 266.75h1.2v1.2h-1.2zM82.30 268.39h1.2v1.2h-1.2zM89.95 268.00h1.2v1.2h-1.2zM95.05 267.95h1.2v1.2h-1.2zM89.95 269.62h1.2v1.2h-1.2zM84.85 270.55h1.2v1.2h-1.2zM87.40 270.58h1.2v1.2h-1.2zM89.95 270.77h1.2v1.2h-1.2zM84.85 272.00h1.2v1.2h-1.2zM89.95 272.18h1.2v1.2h-1.2zM84.85 272.86h1.2v1.2h-1.2zM89.95 273.36h1.2v1.2h-1.2z" fill="#1f5c9c" fill-opacity="1.0"/>
<path d="M79.75 225.76h1.2v1.2h-1.2zM84.85 225.54h1.2v1.2h-1.2zM97.60 226.78h1.2v1.2h-1.2zM87.40 227.97h1.2v1.2h-1.2zM95.05 227.86h1.2v1.2h-1.2zM74.65 229.25h1.2v1.2h-1.2zM95.05 229.35h1.2v1.2h-1.2zM97.60 229.63h1.2v1.2h-1.2zM82.30 232.16h1.2v1.2h-1.2zM95.05 232.14h1.2v1.2h-1.2zM79.75 232.91h1.2v1.2h-1.2zM92.50 233.14h1.2v1.2h-1.2zM100.15 234.57h1.2v1.2h-1.2zM72.10 235.52h1.2v1.2h-1.2zM77.20 235.49h1.2v1.2h-1.2zM72.10 236.66h1.2v1.2h-1.2zM74.65 236.95h1.2v1.2h-1.2zM79.75 237.19h1.2v1.2h-1.2zM84.85 239.67h1.2v1.2h-1.2zM89.95 239.19h1.2v1.2h-1.2zM102.70 240.88h1.2v1.2h-1.2zM102.70 242.05h1.2v1.2h-1.2zM72.10 244.36h1.2v1.2h-1.2zM74.65 244.57h1.2v1.2h-1.2zM77.20 244.22h1.2v1.2h-1.2zM89.95 245.92h1.2v1.2h-1.2zM97.60 245.46h1.2v1.2h-1.2zM72.10 247.01h1.2v1.2h-1.2zM87.40 248.05h1.2v1.2h-1.2zM77.20 249.28h1.2v1.2h-1.2zM79.75 249.38h1.2v1.2h-1.2zM97.60 249.68h1.2v1.2h-1.2zM87.40 250.44h1.2v1.2h-1.2zM82.30 251.64h1.2v1.2h-1.2zM87.40 251.67h1.2v1.2h-1.2zM82.30 253.29h1.2v1.2h-1.2zM87.40 253.31h1.2v1.2h-1.2zM84.85 254.52h1.2v1.2h-1.2zM82.30 255.51h1.2v1.2h-1.2zM87.40 255.81h1.2v1.2h-1.2zM82.30 256.78h1.2v1.2h-1.2zM74.65 257.91h1.2v1.2h-1.2zM89.95 260.85h1.2v1.2h-1.2zM92.50 260.83h1.2v1.2h-1.2zM97.60 260.50h1.2v1.2h-1.2zM102.70 260.70h1.2v1.2h-1.2zM77.20 261.77h1.2v1.2h-1.2zM89.95 262.15h1.2v1.2h-1.2zM95.05 261.78h1.2v1.2h-1.2zM92.50 262.86h1.2v1.2h-1.2zM97.60 262.97h1.2v1.2h-1.2zM74.65 264.22h1.2v1.2h-1.2zM87.40 264.63h1.2v1.2h-1.2zM100.15 264.69h1.2v1.2h-1.2zM82.30 265.44h1.2v1.2h-1.2zM87.40 269.41h1.2v1.2h-1.2z" fill="#1f5c9c" fill-opacity="0.75"/>
<line x1="72.00" y1="248.24" x2="104.00" y2="248.24" stroke="#151515" stroke-width="1.9"/>
<path d="M72.10 247.01h1.2v1.2h-1.2zM77.20 246.68h1.2v1.2h-1.2zM79.75 246.72h1.2v1.2h-1.2zM82.30 246.79h1.2v1.2h-1.2zM89.95 246.75h1.2v1.2h-1.2zM92.50 246.94h1.2v1.2h-1.2zM95.05 247.12h1.2v1.2h-1.2zM97.60 246.90h1.2v1.2h-1.2zM100.15 247.19h1.2v1.2h-1.2zM74.65 247.89h1.2v1.2h-1.2zM77.20 248.32h1.2v1.2h-1.2zM82.30 248.14h1.2v1.2h-1.2zM87.40 248.05h1.2v1.2h-1.2zM89.95 248.21h1.2v1.2h-1.2zM92.50 248.22h1.2v1.2h-1.2zM100.15 248.08h1.2v1.2h-1.2z" fill="#1f5c9c" fill-opacity="0.55"/>
<line x1="134.80" y1="241.35" x2="134.80" y2="246.85" stroke="#333" stroke-width="1.1"/>
<line x1="127.00" y1="241.35" x2="142.60" y2="241.35" stroke="#2e2e2e" stroke-width="1.15"/>
<line x1="127.00" y1="246.85" x2="142.60" y2="246.85" stroke="#6e6e6e" stroke-width="1.6"/>
<line x1="119.20" y1="244.10" x2="150.40" y2="244.10" stroke="#353535" stroke-width="1.9"/>
<rect x="132.50" y="227.20" width="1.6" height="1.6" fill="#d0112b"/>
<rect x="135.40" y="226.60" width="1.6" height="1.6" fill="#d0112b"/>
<rect x="134.00" y="228.80" width="1.6" height="1.6" fill="#d0112b"/>
<rect x="134.00" y="232.20" width="1.6" height="1.6" fill="#d0112b"/>
<rect x="132.50" y="235.90" width="1.6" height="1.6" fill="#d0112b"/>
<rect x="135.20" y="235.20" width="1.6" height="1.6" fill="#d0112b"/>
<rect x="134.00" y="238.60" width="1.6" height="1.6" fill="#d0112b"/>
<rect x="132.70" y="241.40" width="1.6" height="1.6" fill="#d0112b"/>
<rect x="135.40" y="241.80" width="1.6" height="1.6" fill="#d0112b"/>
<rect x="134.00" y="243.30" width="1.6" height="1.6" fill="#d0112b"/>
<rect x="137.00" y="246.10" width="1.6" height="1.6" fill="#d0112b"/>
<rect x="134.00" y="247.80" width="1.6" height="1.6" fill="#d0112b"/>
<rect x="134.00" y="249.10" width="1.6" height="1.6" fill="#d0112b"/>
<rect x="132.50" y="255.20" width="1.6" height="1.6" fill="#d0112b"/>
<rect x="135.40" y="254.40" width="1.6" height="1.6" fill="#d0112b"/>
<rect x="134.00" y="259.00" width="1.6" height="1.6" fill="#d0112b"/>
<rect x="134.00" y="269.80" width="1.6" height="1.6" fill="#d0112b"/>
<text transform="translate(178.40,239.80) rotate(-90) scale(0.71,1)" font-size="10.3" text-anchor="middle" fill="#1e1e1e" stroke="#1e1e1e" stroke-width="0.3">Area under the curve</text>
<text transform="translate(190.00,239.80) rotate(-90) scale(0.71,1)" font-size="10.3" text-anchor="middle" fill="#1e1e1e" stroke="#1e1e1e" stroke-width="0.3">(AUC)</text>
<line x1="215.30" y1="199.50" x2="215.30" y2="277.30" stroke="#333" stroke-width="1.6"/>
<line x1="214.50" y1="276.50" x2="315.50" y2="276.50" stroke="#383838" stroke-width="1.8"/>
<line x1="212.30" y1="276.50" x2="215.30" y2="276.50" stroke="#262626" stroke-width="1.1"/>
<text transform="translate(209.80,279.80) scale(0.9,1)" font-size="8.3" text-anchor="end" fill="#1e1e1e" stroke="#1e1e1e" stroke-width="0.2">0</text>
<line x1="212.30" y1="258.50" x2="215.30" y2="258.50" stroke="#262626" stroke-width="1.1"/>
<text transform="translate(209.80,261.80) scale(0.9,1)" font-size="8.3" text-anchor="end" fill="#1e1e1e" stroke="#1e1e1e" stroke-width="0.2">100</text>
<line x1="212.30" y1="240.50" x2="215.30" y2="240.50" stroke="#262626" stroke-width="1.1"/>
<text transform="translate(209.80,243.80) scale(0.9,1)" font-size="8.3" text-anchor="end" fill="#1e1e1e" stroke="#1e1e1e" stroke-width="0.2">200</text>
<line x1="212.30" y1="222.50" x2="215.30" y2="222.50" stroke="#262626" stroke-width="1.1"/>
<text transform="translate(209.80,225.80) scale(0.9,1)" font-size="8.3" text-anchor="end" fill="#1e1e1e" stroke="#1e1e1e" stroke-width="0.2">300</text>
<line x1="212.30" y1="204.50" x2="215.30" y2="204.50" stroke="#262626" stroke-width="1.1"/>
<text transform="translate(209.80,207.80) scale(0.9,1)" font-size="8.3" text-anchor="end" fill="#1e1e1e" stroke="#1e1e1e" stroke-width="0.2">400</text>
<line x1="246.50" y1="276.50" x2="246.50" y2="279.20" stroke="#262626" stroke-width="1.1"/>
<line x1="293.00" y1="276.50" x2="293.00" y2="279.20" stroke="#262626" stroke-width="1.1"/>
<text transform="translate(269.05,191.00) scale(0.8589795918367346,1)" font-size="9.8" text-anchor="middle" fill="#1e1e1e" font-style="italic" stroke="#1e1e1e" stroke-width="0.2">SF3B1</text>
<g transform="translate(250.00,284.50) rotate(-45)">
<text transform="translate(0.00,0.00) scale(0.92,1)" font-size="8.7" text-anchor="end" fill="#1e1e1e" stroke="#1e1e1e" stroke-width="0.2">WT SF3B1</text>
<text transform="translate(-19.50,10.20) scale(0.92,1)" font-size="8.7" text-anchor="middle" fill="#1e1e1e" stroke="#1e1e1e" stroke-width="0.2">N=217</text>
</g>
<g transform="translate(296.50,284.50) rotate(-45)">
<text transform="translate(0.00,0.00) scale(0.92,1)" font-size="8.7" text-anchor="end" fill="#1e1e1e" stroke="#1e1e1e" stroke-width="0.2">Mutant SF3B1</text>
<text transform="translate(-25.58,10.20) scale(0.92,1)" font-size="8.7" text-anchor="middle" fill="#1e1e1e" stroke="#1e1e1e" stroke-width="0.2">N=10</text>
</g>
<path d="M240.80 224.43h1.2v1.2h-1.2zM243.35 224.24h1.2v1.2h-1.2zM245.90 224.44h1.2v1.2h-1.2zM248.45 224.41h1.2v1.2h-1.2zM240.80 225.56h1.2v1.2h-1.2zM245.90 225.42h1.2v1.2h-1.2zM248.45 225.51h1.2v1.2h-1.2zM251.00 225.73h1.2v1.2h-1.2zM235.70 226.71h1.2v1.2h-1.2zM238.25 226.75h1.2v1.2h-1.2zM243.35 227.04h1.2v1.2h-1.2zM248.45 226.92h1.2v1.2h-1.2zM251.00 227.20h1.2v1.2h-1.2zM253.55 227.18h1.2v1.2h-1.2zM256.10 226.61h1.2v1.2h-1.2zM235.70 228.21h1.2v1.2h-1.2zM240.80 227.97h1.2v1.2h-1.2zM243.35 227.92h1.2v1.2h-1.2zM251.00 228.13h1.2v1.2h-1.2zM253.55 228.24h1.2v1.2h-1.2zM256.10 228.03h1.2v1.2h-1.2zM235.70 229.10h1.2v1.2h-1.2zM238.25 229.41h1.2v1.2h-1.2zM245.90 229.39h1.2v1.2h-1.2zM230.60 230.83h1.2v1.2h-1.2zM238.25 230.50h1.2v1.2h-1.2zM245.90 230.89h1.2v1.2h-1.2zM248.45 230.67h1.2v1.2h-1.2zM258.65 230.49h1.2v1.2h-1.2zM261.20 230.54h1.2v1.2h-1.2zM243.35 231.69h1.2v1.2h-1.2zM248.45 231.79h1.2v1.2h-1.2zM251.00 231.70h1.2v1.2h-1.2zM253.55 231.66h1.2v1.2h-1.2zM256.10 231.78h1.2v1.2h-1.2zM258.65 232.09h1.2v1.2h-1.2zM261.20 232.01h1.2v1.2h-1.2zM230.60 233.41h1.2v1.2h-1.2zM233.15 233.33h1.2v1.2h-1.2zM235.70 232.95h1.2v1.2h-1.2zM238.25 233.36h1.2v1.2h-1.2zM248.45 233.01h1.2v1.2h-1.2zM251.00 233.31h1.2v1.2h-1.2zM253.55 232.95h1.2v1.2h-1.2zM230.60 234.51h1.2v1.2h-1.2zM233.15 234.24h1.2v1.2h-1.2zM238.25 234.12h1.2v1.2h-1.2zM240.80 234.52h1.2v1.2h-1.2zM243.35 234.58h1.2v1.2h-1.2zM245.90 234.56h1.2v1.2h-1.2zM248.45 234.29h1.2v1.2h-1.2zM251.00 234.67h1.2v1.2h-1.2zM253.55 234.49h1.2v1.2h-1.2zM258.65 234.31h1.2v1.2h-1.2zM230.60 235.92h1.2v1.2h-1.2zM235.70 235.88h1.2v1.2h-1.2zM238.25 235.93h1.2v1.2h-1.2zM240.80 235.68h1.2v1.2h-1.2zM245.90 235.92h1.2v1.2h-1.2zM251.00 235.36h1.2v1.2h-1.2zM256.10 235.40h1.2v1.2h-1.2zM233.15 237.00h1.2v1.2h-1.2zM238.25 236.67h1.2v1.2h-1.2zM240.80 236.75h1.2v1.2h-1.2zM243.35 237.08h1.2v1.2h-1.2zM245.90 236.91h1.2v1.2h-1.2zM251.00 236.61h1.2v1.2h-1.2zM253.55 237.05h1.2v1.2h-1.2zM256.10 236.85h1.2v1.2h-1.2zM261.20 236.88h1.2v1.2h-1.2zM230.60 237.95h1.2v1.2h-1.2zM233.15 238.14h1.2v1.2h-1.2zM238.25 238.29h1.2v1.2h-1.2zM240.80 238.17h1.2v1.2h-1.2zM243.35 238.22h1.2v1.2h-1.2zM245.90 237.99h1.2v1.2h-1.2zM248.45 238.01h1.2v1.2h-1.2zM253.55 238.32h1.2v1.2h-1.2zM256.10 237.99h1.2v1.2h-1.2zM258.65 238.40h1.2v1.2h-1.2zM261.20 238.40h1.2v1.2h-1.2zM233.15 239.12h1.2v1.2h-1.2zM235.70 239.13h1.2v1.2h-1.2zM245.90 239.67h1.2v1.2h-1.2zM253.55 239.26h1.2v1.2h-1.2zM256.10 239.33h1.2v1.2h-1.2zM261.20 239.25h1.2v1.2h-1.2zM230.60 240.37h1.2v1.2h-1.2zM233.15 240.86h1.2v1.2h-1.2zM235.70 240.40h1.2v1.2h-1.2zM238.25 240.91h1.2v1.2h-1.2zM243.35 240.66h1.2v1.2h-1.2zM245.90 240.77h1.2v1.2h-1.2zM248.45 240.82h1.2v1.2h-1.2zM251.00 240.66h1.2v1.2h-1.2zM253.55 240.38h1.2v1.2h-1.2zM256.10 240.61h1.2v1.2h-1.2zM258.65 240.93h1.2v1.2h-1.2zM230.60 242.00h1.2v1.2h-1.2zM233.15 242.15h1.2v1.2h-1.2zM235.70 241.65h1.2v1.2h-1.2zM238.25 241.68h1.2v1.2h-1.2zM240.80 241.83h1.2v1.2h-1.2zM243.35 241.72h1.2v1.2h-1.2zM248.45 241.86h1.2v1.2h-1.2zM251.00 241.67h1.2v1.2h-1.2zM253.55 241.92h1.2v1.2h-1.2zM256.10 241.68h1.2v1.2h-1.2zM258.65 241.63h1.2v1.2h-1.2zM238.25 243.20h1.2v1.2h-1.2zM240.80 243.39h1.2v1.2h-1.2zM243.35 243.18h1.2v1.2h-1.2zM258.65 242.99h1.2v1.2h-1.2zM261.20 243.29h1.2v1.2h-1.2zM230.60 244.14h1.2v1.2h-1.2zM233.15 244.49h1.2v1.2h-1.2zM235.70 244.49h1.2v1.2h-1.2zM243.35 244.14h1.2v1.2h-1.2zM248.45 244.29h1.2v1.2h-1.2zM258.65 244.53h1.2v1.2h-1.2zM261.20 244.48h1.2v1.2h-1.2zM230.60 245.52h1.2v1.2h-1.2zM235.70 245.45h1.2v1.2h-1.2zM243.35 245.78h1.2v1.2h-1.2zM245.90 245.44h1.2v1.2h-1.2zM248.45 245.36h1.2v1.2h-1.2zM238.25 247.00h1.2v1.2h-1.2zM258.65 247.18h1.2v1.2h-1.2zM261.20 247.11h1.2v1.2h-1.2zM233.15 248.30h1.2v1.2h-1.2zM238.25 247.90h1.2v1.2h-1.2zM240.80 247.96h1.2v1.2h-1.2zM245.90 248.34h1.2v1.2h-1.2zM248.45 247.90h1.2v1.2h-1.2zM251.00 248.27h1.2v1.2h-1.2zM258.65 247.97h1.2v1.2h-1.2zM238.25 249.32h1.2v1.2h-1.2zM243.35 249.46h1.2v1.2h-1.2zM245.90 249.20h1.2v1.2h-1.2zM248.45 249.41h1.2v1.2h-1.2zM251.00 249.24h1.2v1.2h-1.2zM253.55 249.48h1.2v1.2h-1.2zM256.10 249.46h1.2v1.2h-1.2zM238.25 250.60h1.2v1.2h-1.2zM251.00 250.39h1.2v1.2h-1.2zM253.55 250.73h1.2v1.2h-1.2zM256.10 250.88h1.2v1.2h-1.2zM235.70 252.05h1.2v1.2h-1.2zM240.80 251.86h1.2v1.2h-1.2zM243.35 251.60h1.2v1.2h-1.2zM245.90 251.89h1.2v1.2h-1.2zM248.45 251.88h1.2v1.2h-1.2zM253.55 251.96h1.2v1.2h-1.2zM256.10 251.81h1.2v1.2h-1.2zM235.70 253.30h1.2v1.2h-1.2zM238.25 253.17h1.2v1.2h-1.2zM248.45 253.17h1.2v1.2h-1.2zM256.10 253.07h1.2v1.2h-1.2zM238.25 254.59h1.2v1.2h-1.2zM240.80 254.66h1.2v1.2h-1.2zM245.90 254.23h1.2v1.2h-1.2zM251.00 254.44h1.2v1.2h-1.2zM253.55 254.30h1.2v1.2h-1.2zM256.10 254.40h1.2v1.2h-1.2zM240.80 255.41h1.2v1.2h-1.2zM243.35 255.82h1.2v1.2h-1.2zM253.55 255.39h1.2v1.2h-1.2zM256.10 255.70h1.2v1.2h-1.2zM230.60 256.65h1.2v1.2h-1.2zM233.15 257.20h1.2v1.2h-1.2zM243.35 257.10h1.2v1.2h-1.2zM253.55 257.15h1.2v1.2h-1.2zM256.10 256.71h1.2v1.2h-1.2zM258.65 256.98h1.2v1.2h-1.2zM235.70 257.91h1.2v1.2h-1.2zM238.25 258.28h1.2v1.2h-1.2zM240.80 257.89h1.2v1.2h-1.2zM243.35 258.05h1.2v1.2h-1.2zM245.90 258.13h1.2v1.2h-1.2zM248.45 258.00h1.2v1.2h-1.2zM251.00 258.04h1.2v1.2h-1.2zM253.55 258.16h1.2v1.2h-1.2zM256.10 257.95h1.2v1.2h-1.2zM258.65 258.40h1.2v1.2h-1.2zM261.20 258.15h1.2v1.2h-1.2zM240.80 259.15h1.2v1.2h-1.2zM253.55 259.47h1.2v1.2h-1.2zM256.10 259.17h1.2v1.2h-1.2zM258.65 259.40h1.2v1.2h-1.2zM230.60 260.74h1.2v1.2h-1.2zM233.15 260.62h1.2v1.2h-1.2zM238.25 260.54h1.2v1.2h-1.2zM256.10 260.66h1.2v1.2h-1.2zM261.20 260.57h1.2v1.2h-1.2zM235.70 261.67h1.2v1.2h-1.2zM240.80 261.69h1.2v1.2h-1.2zM243.35 261.90h1.2v1.2h-1.2zM245.90 261.78h1.2v1.2h-1.2zM248.45 262.02h1.2v1.2h-1.2zM253.55 261.62h1.2v1.2h-1.2zM256.10 261.71h1.2v1.2h-1.2zM261.20 261.87h1.2v1.2h-1.2zM233.15 263.35h1.2v1.2h-1.2zM235.70 263.20h1.2v1.2h-1.2zM238.25 263.36h1.2v1.2h-1.2zM240.80 263.15h1.2v1.2h-1.2zM243.35 263.42h1.2v1.2h-1.2zM245.90 263.03h1.2v1.2h-1.2zM253.55 262.94h1.2v1.2h-1.2zM256.10 263.11h1.2v1.2h-1.2zM258.65 263.20h1.2v1.2h-1.2zM261.20 263.32h1.2v1.2h-1.2zM233.15 264.66h1.2v1.2h-1.2zM238.25 264.39h1.2v1.2h-1.2zM240.80 264.64h1.2v1.2h-1.2zM248.45 264.58h1.2v1.2h-1.2zM251.00 264.14h1.2v1.2h-1.2zM258.65 264.62h1.2v1.2h-1.2zM261.20 264.48h1.2v1.2h-1.2zM230.60 265.56h1.2v1.2h-1.2zM235.70 265.92h1.2v1.2h-1.2zM238.25 265.80h1.2v1.2h-1.2zM248.45 265.73h1.2v1.2h-1.2zM258.65 265.86h1.2v1.2h-1.2zM238.25 267.10h1.2v1.2h-1.2zM245.90 266.60h1.2v1.2h-1.2zM248.45 267.04h1.2v1.2h-1.2zM251.00 266.89h1.2v1.2h-1.2zM253.55 266.69h1.2v1.2h-1.2zM258.65 267.05h1.2v1.2h-1.2zM240.80 267.96h1.2v1.2h-1.2zM243.35 268.35h1.2v1.2h-1.2zM245.90 268.23h1.2v1.2h-1.2zM240.80 269.51h1.2v1.2h-1.2zM248.45 269.50h1.2v1.2h-1.2zM251.00 269.50h1.2v1.2h-1.2zM240.80 270.67h1.2v1.2h-1.2zM245.90 270.81h1.2v1.2h-1.2zM248.45 270.42h1.2v1.2h-1.2zM248.45 271.84h1.2v1.2h-1.2zM251.00 272.04h1.2v1.2h-1.2zM240.80 273.37h1.2v1.2h-1.2zM243.35 273.33h1.2v1.2h-1.2zM251.00 273.04h1.2v1.2h-1.2z" fill="#1f5c9c" fill-opacity="1.0"/>
<path d="M251.00 224.33h1.2v1.2h-1.2zM253.55 225.58h1.2v1.2h-1.2zM240.80 227.18h1.2v1.2h-1.2zM245.90 226.88h1.2v1.2h-1.2zM245.90 227.89h1.2v1.2h-1.2zM233.15 230.53h1.2v1.2h-1.2zM235.70 230.88h1.2v1.2h-1.2zM240.80 230.39h1.2v1.2h-1.2zM243.35 230.56h1.2v1.2h-1.2zM251.00 230.77h1.2v1.2h-1.2zM253.55 230.51h1.2v1.2h-1.2zM256.10 230.94h1.2v1.2h-1.2zM233.15 231.60h1.2v1.2h-1.2zM238.25 232.08h1.2v1.2h-1.2zM240.80 231.98h1.2v1.2h-1.2zM243.35 233.01h1.2v1.2h-1.2zM256.10 233.40h1.2v1.2h-1.2zM258.65 233.32h1.2v1.2h-1.2zM261.20 233.08h1.2v1.2h-1.2zM235.70 234.32h1.2v1.2h-1.2zM233.15 235.42h1.2v1.2h-1.2zM248.45 235.87h1.2v1.2h-1.2zM258.65 235.70h1.2v1.2h-1.2zM261.20 235.38h1.2v1.2h-1.2zM248.45 236.85h1.2v1.2h-1.2zM251.00 238.10h1.2v1.2h-1.2zM230.60 239.62h1.2v1.2h-1.2zM240.80 239.41h1.2v1.2h-1.2zM243.35 239.69h1.2v1.2h-1.2zM251.00 239.54h1.2v1.2h-1.2zM258.65 239.16h1.2v1.2h-1.2zM240.80 240.73h1.2v1.2h-1.2zM261.20 240.85h1.2v1.2h-1.2zM230.60 243.10h1.2v1.2h-1.2zM235.70 242.87h1.2v1.2h-1.2zM245.90 243.11h1.2v1.2h-1.2zM253.55 243.30h1.2v1.2h-1.2zM240.80 244.27h1.2v1.2h-1.2zM253.55 244.16h1.2v1.2h-1.2zM251.00 245.35h1.2v1.2h-1.2zM256.10 245.69h1.2v1.2h-1.2zM258.65 245.72h1.2v1.2h-1.2zM261.20 245.91h1.2v1.2h-1.2zM230.60 246.86h1.2v1.2h-1.2zM233.15 246.89h1.2v1.2h-1.2zM235.70 246.85h1.2v1.2h-1.2zM253.55 246.92h1.2v1.2h-1.2zM253.55 248.39h1.2v1.2h-1.2zM235.70 249.30h1.2v1.2h-1.2zM240.80 250.44h1.2v1.2h-1.2zM243.35 250.50h1.2v1.2h-1.2zM248.45 250.36h1.2v1.2h-1.2zM253.55 252.86h1.2v1.2h-1.2zM243.35 254.63h1.2v1.2h-1.2zM245.90 255.77h1.2v1.2h-1.2zM248.45 255.36h1.2v1.2h-1.2zM251.00 255.94h1.2v1.2h-1.2zM238.25 256.94h1.2v1.2h-1.2zM245.90 256.97h1.2v1.2h-1.2zM230.60 258.44h1.2v1.2h-1.2zM235.70 259.51h1.2v1.2h-1.2zM243.35 259.57h1.2v1.2h-1.2zM245.90 259.13h1.2v1.2h-1.2zM251.00 259.17h1.2v1.2h-1.2zM261.20 259.38h1.2v1.2h-1.2zM258.65 260.73h1.2v1.2h-1.2zM233.15 261.70h1.2v1.2h-1.2zM230.60 264.53h1.2v1.2h-1.2zM235.70 264.61h1.2v1.2h-1.2zM243.35 264.53h1.2v1.2h-1.2zM256.10 264.58h1.2v1.2h-1.2zM233.15 265.39h1.2v1.2h-1.2zM245.90 265.57h1.2v1.2h-1.2zM253.55 265.37h1.2v1.2h-1.2zM256.10 265.57h1.2v1.2h-1.2zM230.60 266.84h1.2v1.2h-1.2zM256.10 266.80h1.2v1.2h-1.2zM251.00 268.00h1.2v1.2h-1.2zM253.55 268.21h1.2v1.2h-1.2zM243.35 269.30h1.2v1.2h-1.2zM243.35 270.66h1.2v1.2h-1.2zM251.00 270.66h1.2v1.2h-1.2zM240.80 272.18h1.2v1.2h-1.2zM245.90 273.17h1.2v1.2h-1.2z" fill="#1f5c9c" fill-opacity="0.75"/>
<line x1="230.50" y1="248.24" x2="262.50" y2="248.24" stroke="#151515" stroke-width="1.9"/>
<path d="M230.60 246.86h1.2v1.2h-1.2zM233.15 246.89h1.2v1.2h-1.2zM235.70 246.85h1.2v1.2h-1.2zM238.25 247.00h1.2v1.2h-1.2zM253.55 246.92h1.2v1.2h-1.2zM258.65 247.18h1.2v1.2h-1.2zM261.20 247.11h1.2v1.2h-1.2zM233.15 248.30h1.2v1.2h-1.2zM238.25 247.90h1.2v1.2h-1.2zM240.80 247.96h1.2v1.2h-1.2zM245.90 248.34h1.2v1.2h-1.2zM248.45 247.90h1.2v1.2h-1.2zM251.00 248.27h1.2v1.2h-1.2zM253.55 248.39h1.2v1.2h-1.2zM258.65 247.97h1.2v1.2h-1.2z" fill="#1f5c9c" fill-opacity="0.55"/>
<line x1="293.00" y1="233.71" x2="293.00" y2="236.70" stroke="#333" stroke-width="1.1"/>
<line x1="285.20" y1="233.71" x2="300.80" y2="233.71" stroke="#2e2e2e" stroke-width="1.15"/>
<line x1="285.20" y1="236.70" x2="300.80" y2="236.70" stroke="#6e6e6e" stroke-width="1.6"/>
<line x1="277.40" y1="235.21" x2="308.60" y2="235.21" stroke="#353535" stroke-width="1.9"/>
<rect x="292.20" y="227.10" width="1.6" height="1.6" fill="#d0112b"/>
<rect x="292.20" y="228.60" width="1.6" height="1.6" fill="#d0112b"/>
<rect x="287.90" y="231.70" width="1.6" height="1.6" fill="#d0112b"/>
<rect x="290.80" y="231.90" width="1.6" height="1.6" fill="#d0112b"/>
<rect x="290.80" y="233.00" width="1.6" height="1.6" fill="#d0112b"/>
<rect x="293.80" y="233.60" width="1.6" height="1.6" fill="#d0112b"/>
<rect x="292.20" y="234.90" width="1.6" height="1.6" fill="#d0112b"/>
<rect x="292.20" y="237.90" width="1.6" height="1.6" fill="#d0112b"/>
<rect x="290.80" y="242.70" width="1.6" height="1.6" fill="#d0112b"/>
<rect x="293.80" y="242.50" width="1.6" height="1.6" fill="#d0112b"/>
<line x1="247.50" y1="210.50" x2="292.70" y2="210.50" stroke="#4a4a4a" stroke-width="1.4"/>
<path d="M264.45 204.05L264.95 205.31L266.30 205.40L265.26 206.26L265.60 207.58L264.45 206.85L263.30 207.58L263.64 206.26L262.60 205.40L263.95 205.31ZM268.15 204.05L268.65 205.31L270.00 205.40L268.96 206.26L269.30 207.58L268.15 206.85L267.00 207.58L267.34 206.26L266.30 205.40L267.65 205.31ZM271.85 204.05L272.35 205.31L273.70 205.40L272.66 206.26L273.00 207.58L271.85 206.85L270.70 207.58L271.04 206.26L270.00 205.40L271.35 205.31ZM275.55 204.05L276.05 205.31L277.40 205.40L276.36 206.26L276.70 207.58L275.55 206.85L274.40 207.58L274.74 206.26L273.70 205.40L275.05 205.31Z" fill="#111"/>
<text transform="translate(356.20,73.70) rotate(-90) scale(0.735,1)" font-size="9.9" text-anchor="middle" fill="#1e1e1e" stroke="#1e1e1e" stroke-width="0.2">Viability (%)</text>
<text transform="translate(368.30,73.70) rotate(-90) scale(0.735,1)" font-size="9.9" text-anchor="middle" fill="#1e1e1e" stroke="#1e1e1e" stroke-width="0.2">(annexin V negative)</text>
<line x1="388.40" y1="28.50" x2="388.40" y2="113.80" stroke="#333" stroke-width="1.6"/>
<line x1="387.60" y1="113.00" x2="513.70" y2="113.00" stroke="#383838" stroke-width="1.8"/>
<line x1="385.40" y1="113.00" x2="388.40" y2="113.00" stroke="#262626" stroke-width="1.1"/>
<text transform="translate(381.70,116.30) scale(0.9,1)" font-size="8.3" text-anchor="end" fill="#1e1e1e" stroke="#1e1e1e" stroke-width="0.2">0</text>
<line x1="385.40" y1="93.00" x2="388.40" y2="93.00" stroke="#262626" stroke-width="1.1"/>
<text transform="translate(381.70,96.30) scale(0.9,1)" font-size="8.3" text-anchor="end" fill="#1e1e1e" stroke="#1e1e1e" stroke-width="0.2">20</text>
<line x1="385.40" y1="73.00" x2="388.40" y2="73.00" stroke="#262626" stroke-width="1.1"/>
<text transform="translate(381.70,76.30) scale(0.9,1)" font-size="8.3" text-anchor="end" fill="#1e1e1e" stroke="#1e1e1e" stroke-width="0.2">40</text>
<line x1="385.40" y1="53.00" x2="388.40" y2="53.00" stroke="#262626" stroke-width="1.1"/>
<text transform="translate(381.70,56.30) scale(0.9,1)" font-size="8.3" text-anchor="end" fill="#1e1e1e" stroke="#1e1e1e" stroke-width="0.2">60</text>
<line x1="385.40" y1="33.00" x2="388.40" y2="33.00" stroke="#262626" stroke-width="1.1"/>
<text transform="translate(381.70,36.30) scale(0.9,1)" font-size="8.3" text-anchor="end" fill="#1e1e1e" stroke="#1e1e1e" stroke-width="0.2">80</text>
<line x1="421.80" y1="113.00" x2="421.80" y2="115.70" stroke="#262626" stroke-width="1.1"/>
<line x1="481.50" y1="113.00" x2="481.50" y2="115.70" stroke="#262626" stroke-width="1.1"/>
<rect x="398.45" y="34.35" width="18.60" height="78.15" fill="#145082" stroke="#0f4576" stroke-width="0.7"/>
<line x1="407.75" y1="33.40" x2="407.75" y2="34.00" stroke="#333" stroke-width="1.1"/>
<line x1="402.95" y1="33.40" x2="412.55" y2="33.40" stroke="#333" stroke-width="1.1"/>
<rect x="426.95" y="57.35" width="18.60" height="55.15" fill="#87a8c5" stroke="#7799ba" stroke-width="0.7"/>
<line x1="436.25" y1="52.50" x2="436.25" y2="57.00" stroke="#333" stroke-width="1.1"/>
<line x1="431.45" y1="52.50" x2="441.05" y2="52.50" stroke="#333" stroke-width="1.1"/>
<rect x="457.80" y="51.85" width="18.60" height="60.65" fill="#c8132f" stroke="#b80e29" stroke-width="0.7"/>
<line x1="467.10" y1="40.00" x2="467.10" y2="51.50" stroke="#333" stroke-width="1.1"/>
<line x1="462.30" y1="40.00" x2="471.90" y2="40.00" stroke="#333" stroke-width="1.1"/>
<rect x="486.80" y="109.15" width="18.60" height="3.35" fill="#e48a9a" stroke="#d87489" stroke-width="0.7"/>
<line x1="496.10" y1="107.00" x2="496.10" y2="108.80" stroke="#333" stroke-width="1.1"/>
<line x1="491.30" y1="107.00" x2="500.90" y2="107.00" stroke="#333" stroke-width="1.1"/>
<text transform="translate(440.80,14.00) scale(0.915,1)" font-size="9.8" text-anchor="middle" fill="#1e1e1e" stroke="#1e1e1e" stroke-width="0.2"><tspan font-style="italic">PTPN11</tspan> G503E</text>
<text transform="translate(440.60,25.40)" font-size="9.2" text-anchor="middle" fill="#1e1e1e" stroke="#1e1e1e" stroke-width="0.2">(AML8)</text>
<text transform="translate(394.30,125.50) scale(0.95,1)" font-size="8.2" text-anchor="end" fill="#1e1e1e" stroke="#1e1e1e" stroke-width="0.2">MP-A08 (μM)</text>
<text transform="translate(394.30,137.30) scale(0.95,1)" font-size="8.2" text-anchor="end" fill="#1e1e1e" stroke="#1e1e1e" stroke-width="0.2">Venetoclax (nM)</text>
<text transform="translate(407.75,125.50) scale(0.95,1)" font-size="8.2" text-anchor="middle" fill="#1e1e1e" stroke="#1e1e1e" stroke-width="0.2">–</text>
<text transform="translate(407.75,137.30) scale(0.95,1)" font-size="8.2" text-anchor="middle" fill="#1e1e1e" stroke="#1e1e1e" stroke-width="0.2">–</text>
<text transform="translate(436.25,125.50) scale(0.95,1)" font-size="8.2" text-anchor="middle" fill="#1e1e1e" stroke="#1e1e1e" stroke-width="0.2">10</text>
<text transform="translate(436.25,137.30) scale(0.95,1)" font-size="8.2" text-anchor="middle" fill="#1e1e1e" stroke="#1e1e1e" stroke-width="0.2">–</text>
<text transform="translate(467.10,125.50) scale(0.95,1)" font-size="8.2" text-anchor="middle" fill="#1e1e1e" stroke="#1e1e1e" stroke-width="0.2">–</text>
<text transform="translate(467.10,137.30) scale(0.95,1)" font-size="8.2" text-anchor="middle" fill="#1e1e1e" stroke="#1e1e1e" stroke-width="0.2">2.5</text>
<text transform="translate(496.10,125.50) scale(0.95,1)" font-size="8.2" text-anchor="middle" fill="#1e1e1e" stroke="#1e1e1e" stroke-width="0.2">10</text>
<text transform="translate(496.10,137.30) scale(0.95,1)" font-size="8.2" text-anchor="middle" fill="#1e1e1e" stroke="#1e1e1e" stroke-width="0.2">2.5</text>
<text transform="translate(497.30,102.40) scale(0.95,1)" font-size="7.8" text-anchor="middle" fill="#1e1e1e" stroke="#1e1e1e" stroke-width="0.2">FP –0.49</text>
<line x1="434.50" y1="36.00" x2="493.30" y2="36.00" stroke="#444" stroke-width="1.1"/>
<line x1="434.50" y1="31.20" x2="434.50" y2="40.80" stroke="#444" stroke-width="1.1"/>
<line x1="493.30" y1="31.20" x2="493.30" y2="40.80" stroke="#444" stroke-width="1.1"/>
<path d="M465.35 26.55L465.85 27.81L467.20 27.90L466.16 28.76L466.50 30.08L465.35 29.35L464.20 30.08L464.54 28.76L463.50 27.90L464.85 27.81ZM469.15 26.55L469.65 27.81L471.00 27.90L469.96 28.76L470.30 30.08L469.15 29.35L468.00 30.08L468.34 28.76L467.30 27.90L468.65 27.81Z" fill="#111"/>
<text transform="translate(355.40,237.00) rotate(-90) scale(0.735,1)" font-size="9.9" text-anchor="middle" fill="#1e1e1e" stroke="#1e1e1e" stroke-width="0.2">Viability (%)</text>
<text transform="translate(367.50,237.00) rotate(-90) scale(0.735,1)" font-size="9.9" text-anchor="middle" fill="#1e1e1e" stroke="#1e1e1e" stroke-width="0.2">(annexin V negative)</text>
<line x1="387.60" y1="192.25" x2="387.60" y2="277.55" stroke="#333" stroke-width="1.6"/>
<line x1="386.80" y1="276.75" x2="513.70" y2="276.75" stroke="#383838" stroke-width="1.8"/>
<line x1="384.60" y1="276.75" x2="387.60" y2="276.75" stroke="#262626" stroke-width="1.1"/>
<text transform="translate(380.90,280.05) scale(0.9,1)" font-size="8.3" text-anchor="end" fill="#1e1e1e" stroke="#1e1e1e" stroke-width="0.2">0</text>
<line x1="384.60" y1="256.75" x2="387.60" y2="256.75" stroke="#262626" stroke-width="1.1"/>
<text transform="translate(380.90,260.05) scale(0.9,1)" font-size="8.3" text-anchor="end" fill="#1e1e1e" stroke="#1e1e1e" stroke-width="0.2">20</text>
<line x1="384.60" y1="236.75" x2="387.60" y2="236.75" stroke="#262626" stroke-width="1.1"/>
<text transform="translate(380.90,240.05) scale(0.9,1)" font-size="8.3" text-anchor="end" fill="#1e1e1e" stroke="#1e1e1e" stroke-width="0.2">40</text>
<line x1="384.60" y1="216.75" x2="387.60" y2="216.75" stroke="#262626" stroke-width="1.1"/>
<text transform="translate(380.90,220.05) scale(0.9,1)" font-size="8.3" text-anchor="end" fill="#1e1e1e" stroke="#1e1e1e" stroke-width="0.2">60</text>
<line x1="384.60" y1="196.75" x2="387.60" y2="196.75" stroke="#262626" stroke-width="1.1"/>
<text transform="translate(380.90,200.05) scale(0.9,1)" font-size="8.3" text-anchor="end" fill="#1e1e1e" stroke="#1e1e1e" stroke-width="0.2">80</text>
<line x1="420.20" y1="276.75" x2="420.20" y2="279.45" stroke="#262626" stroke-width="1.1"/>
<line x1="476.80" y1="276.75" x2="476.80" y2="279.45" stroke="#262626" stroke-width="1.1"/>
<rect x="397.75" y="213.10" width="18.70" height="63.15" fill="#145082" stroke="#0f4576" stroke-width="0.7"/>
<line x1="407.10" y1="210.25" x2="407.10" y2="212.75" stroke="#333" stroke-width="1.1"/>
<line x1="402.30" y1="210.25" x2="411.90" y2="210.25" stroke="#333" stroke-width="1.1"/>
<rect x="424.40" y="228.10" width="18.70" height="48.15" fill="#87a8c5" stroke="#7799ba" stroke-width="0.7"/>
<line x1="433.75" y1="226.55" x2="433.75" y2="227.75" stroke="#333" stroke-width="1.1"/>
<line x1="428.95" y1="226.55" x2="438.55" y2="226.55" stroke="#333" stroke-width="1.1"/>
<rect x="453.55" y="225.10" width="18.70" height="51.15" fill="#c8132f" stroke="#b80e29" stroke-width="0.7"/>
<line x1="462.90" y1="221.25" x2="462.90" y2="224.75" stroke="#333" stroke-width="1.1"/>
<line x1="458.10" y1="221.25" x2="467.70" y2="221.25" stroke="#333" stroke-width="1.1"/>
<rect x="480.50" y="249.60" width="18.70" height="26.65" fill="#e48a9a" stroke="#d87489" stroke-width="0.7"/>
<line x1="489.85" y1="246.45" x2="489.85" y2="249.25" stroke="#333" stroke-width="1.1"/>
<line x1="485.05" y1="246.45" x2="494.65" y2="246.45" stroke="#333" stroke-width="1.1"/>
<text transform="translate(451.40,189.00) scale(0.915,1)" font-size="9.8" text-anchor="middle" fill="#1e1e1e" stroke="#1e1e1e" stroke-width="0.2"><tspan font-style="italic">TP53</tspan> R273H</text>
<text transform="translate(451.10,200.50)" font-size="9.2" text-anchor="middle" fill="#1e1e1e" stroke="#1e1e1e" stroke-width="0.2">(AML9)</text>
<text transform="translate(394.30,289.20) scale(0.95,1)" font-size="8.2" text-anchor="end" fill="#1e1e1e" stroke="#1e1e1e" stroke-width="0.2">MP-A08 (μM)</text>
<text transform="translate(394.30,301.20) scale(0.95,1)" font-size="8.2" text-anchor="end" fill="#1e1e1e" stroke="#1e1e1e" stroke-width="0.2">Venetoclax (μM)</text>
<text transform="translate(407.10,289.20) scale(0.95,1)" font-size="8.2" text-anchor="middle" fill="#1e1e1e" stroke="#1e1e1e" stroke-width="0.2">–</text>
<text transform="translate(407.10,301.20) scale(0.95,1)" font-size="8.2" text-anchor="middle" fill="#1e1e1e" stroke="#1e1e1e" stroke-width="0.2">–</text>
<text transform="translate(433.75,289.20) scale(0.95,1)" font-size="8.2" text-anchor="middle" fill="#1e1e1e" stroke="#1e1e1e" stroke-width="0.2">10</text>
<text transform="translate(433.75,301.20) scale(0.95,1)" font-size="8.2" text-anchor="middle" fill="#1e1e1e" stroke="#1e1e1e" stroke-width="0.2">1</text>
<text transform="translate(462.90,289.20) scale(0.95,1)" font-size="8.2" text-anchor="middle" fill="#1e1e1e" stroke="#1e1e1e" stroke-width="0.2">–</text>
<text transform="translate(462.90,301.20) scale(0.95,1)" font-size="8.2" text-anchor="middle" fill="#1e1e1e" stroke="#1e1e1e" stroke-width="0.2">1</text>
<text transform="translate(489.85,289.20) scale(0.95,1)" font-size="8.2" text-anchor="middle" fill="#1e1e1e" stroke="#1e1e1e" stroke-width="0.2">10</text>
<text transform="translate(489.85,301.20) scale(0.95,1)" font-size="8.2" text-anchor="middle" fill="#1e1e1e" stroke="#1e1e1e" stroke-width="0.2">1</text>
<text transform="translate(491.20,243.20) scale(0.95,1)" font-size="7.8" text-anchor="middle" fill="#1e1e1e" stroke="#1e1e1e" stroke-width="0.2">FP –0.18</text>
<line x1="433.10" y1="211.70" x2="492.00" y2="211.70" stroke="#444" stroke-width="1.1"/>
<line x1="433.10" y1="206.90" x2="433.10" y2="216.50" stroke="#444" stroke-width="1.1"/>
<line x1="492.00" y1="206.90" x2="492.00" y2="216.50" stroke="#444" stroke-width="1.1"/>
<path d="M460.55 205.45L461.05 206.71L462.40 206.80L461.36 207.66L461.70 208.98L460.55 208.25L459.40 208.98L459.74 207.66L458.70 206.80L460.05 206.71ZM464.35 205.45L464.85 206.71L466.20 206.80L465.16 207.66L465.50 208.98L464.35 208.25L463.20 208.98L463.54 207.66L462.50 206.80L463.85 206.71Z" fill="#111"/>
<text transform="translate(195.70,394.40) rotate(-90) scale(0.735,1)" font-size="9.9" text-anchor="middle" fill="#1e1e1e" stroke="#1e1e1e" stroke-width="0.2">Viability (%)</text>
<text transform="translate(208.50,394.40) rotate(-90) scale(0.735,1)" font-size="9.9" text-anchor="middle" fill="#1e1e1e" stroke="#1e1e1e" stroke-width="0.2">(annexin V negative)</text>
<line x1="228.75" y1="354.75" x2="228.75" y2="433.30" stroke="#333" stroke-width="1.6"/>
<line x1="227.95" y1="432.50" x2="341.30" y2="432.50" stroke="#383838" stroke-width="1.8"/>
<line x1="225.75" y1="432.50" x2="228.75" y2="432.50" stroke="#262626" stroke-width="1.1"/>
<text transform="translate(222.05,435.80) scale(0.9,1)" font-size="8.3" text-anchor="end" fill="#1e1e1e" stroke="#1e1e1e" stroke-width="0.2">0</text>
<line x1="225.75" y1="414.19" x2="228.75" y2="414.19" stroke="#262626" stroke-width="1.1"/>
<text transform="translate(222.05,417.49) scale(0.9,1)" font-size="8.3" text-anchor="end" fill="#1e1e1e" stroke="#1e1e1e" stroke-width="0.2">20</text>
<line x1="225.75" y1="395.88" x2="228.75" y2="395.88" stroke="#262626" stroke-width="1.1"/>
<text transform="translate(222.05,399.18) scale(0.9,1)" font-size="8.3" text-anchor="end" fill="#1e1e1e" stroke="#1e1e1e" stroke-width="0.2">40</text>
<line x1="225.75" y1="377.56" x2="228.75" y2="377.56" stroke="#262626" stroke-width="1.1"/>
<text transform="translate(222.05,380.86) scale(0.9,1)" font-size="8.3" text-anchor="end" fill="#1e1e1e" stroke="#1e1e1e" stroke-width="0.2">60</text>
<line x1="225.75" y1="359.25" x2="228.75" y2="359.25" stroke="#262626" stroke-width="1.1"/>
<text transform="translate(222.05,362.55) scale(0.9,1)" font-size="8.3" text-anchor="end" fill="#1e1e1e" stroke="#1e1e1e" stroke-width="0.2">80</text>
<line x1="258.80" y1="432.50" x2="258.80" y2="435.20" stroke="#262626" stroke-width="1.1"/>
<line x1="310.60" y1="432.50" x2="310.60" y2="435.20" stroke="#262626" stroke-width="1.1"/>
<rect x="238.20" y="384.14" width="16.10" height="47.86" fill="#145082" stroke="#0f4576" stroke-width="0.7"/>
<line x1="246.25" y1="383.06" x2="246.25" y2="383.79" stroke="#333" stroke-width="1.1"/>
<line x1="241.45" y1="383.06" x2="251.05" y2="383.06" stroke="#333" stroke-width="1.1"/>
<rect x="263.45" y="383.41" width="16.10" height="48.59" fill="#87a8c5" stroke="#7799ba" stroke-width="0.7"/>
<line x1="271.50" y1="381.50" x2="271.50" y2="383.06" stroke="#333" stroke-width="1.1"/>
<line x1="266.70" y1="381.50" x2="276.30" y2="381.50" stroke="#333" stroke-width="1.1"/>
<rect x="289.85" y="392.38" width="16.10" height="39.62" fill="#c8132f" stroke="#b80e29" stroke-width="0.7"/>
<line x1="297.90" y1="390.56" x2="297.90" y2="392.03" stroke="#333" stroke-width="1.1"/>
<line x1="293.10" y1="390.56" x2="302.70" y2="390.56" stroke="#333" stroke-width="1.1"/>
<rect x="315.45" y="394.12" width="16.10" height="37.88" fill="#e48a9a" stroke="#d87489" stroke-width="0.7"/>
<line x1="323.50" y1="391.30" x2="323.50" y2="393.77" stroke="#333" stroke-width="1.1"/>
<line x1="318.70" y1="391.30" x2="328.30" y2="391.30" stroke="#333" stroke-width="1.1"/>
<text transform="translate(285.20,349.30) scale(0.915,1)" font-size="9.8" text-anchor="middle" fill="#1e1e1e" stroke="#1e1e1e" stroke-width="0.2"><tspan font-style="italic">K-Ras</tspan> G12D</text>
<text transform="translate(285.00,360.30)" font-size="9.2" text-anchor="middle" fill="#1e1e1e" stroke="#1e1e1e" stroke-width="0.2">(AML10)</text>
<text transform="translate(236.40,445.20) scale(0.95,1)" font-size="8.2" text-anchor="end" fill="#1e1e1e" stroke="#1e1e1e" stroke-width="0.2">MP-A08 (μM)</text>
<text transform="translate(236.40,455.10) scale(0.95,1)" font-size="8.2" text-anchor="end" fill="#1e1e1e" stroke="#1e1e1e" stroke-width="0.2">Venetoclax (nM)</text>
<text transform="translate(246.25,445.20) scale(0.95,1)" font-size="8.2" text-anchor="middle" fill="#1e1e1e" stroke="#1e1e1e" stroke-width="0.2">–</text>
<text transform="translate(246.25,455.10) scale(0.95,1)" font-size="8.2" text-anchor="middle" fill="#1e1e1e" stroke="#1e1e1e" stroke-width="0.2">–</text>
<text transform="translate(271.50,445.20) scale(0.95,1)" font-size="8.2" text-anchor="middle" fill="#1e1e1e" stroke="#1e1e1e" stroke-width="0.2">20</text>
<text transform="translate(271.50,455.10) scale(0.95,1)" font-size="8.2" text-anchor="middle" fill="#1e1e1e" stroke="#1e1e1e" stroke-width="0.2">–</text>
<text transform="translate(297.90,445.20) scale(0.95,1)" font-size="8.2" text-anchor="middle" fill="#1e1e1e" stroke="#1e1e1e" stroke-width="0.2">–</text>
<text transform="translate(297.90,455.10) scale(0.95,1)" font-size="8.2" text-anchor="middle" fill="#1e1e1e" stroke="#1e1e1e" stroke-width="0.2">10</text>
<text transform="translate(323.50,445.20) scale(0.95,1)" font-size="8.2" text-anchor="middle" fill="#1e1e1e" stroke="#1e1e1e" stroke-width="0.2">20</text>
<text transform="translate(323.50,455.10) scale(0.95,1)" font-size="8.2" text-anchor="middle" fill="#1e1e1e" stroke="#1e1e1e" stroke-width="0.2">10</text>
<rect x="0" y="0" width="520" height="1" fill="#000"/>
<rect x="0" y="0" width="1" height="462" fill="#000"/>
<rect x="518.85" y="0" width="1.15" height="462" fill="#000"/>
<rect x="0" y="460.85" width="520" height="1.15" fill="#000"/>
</svg>
</body></html>
